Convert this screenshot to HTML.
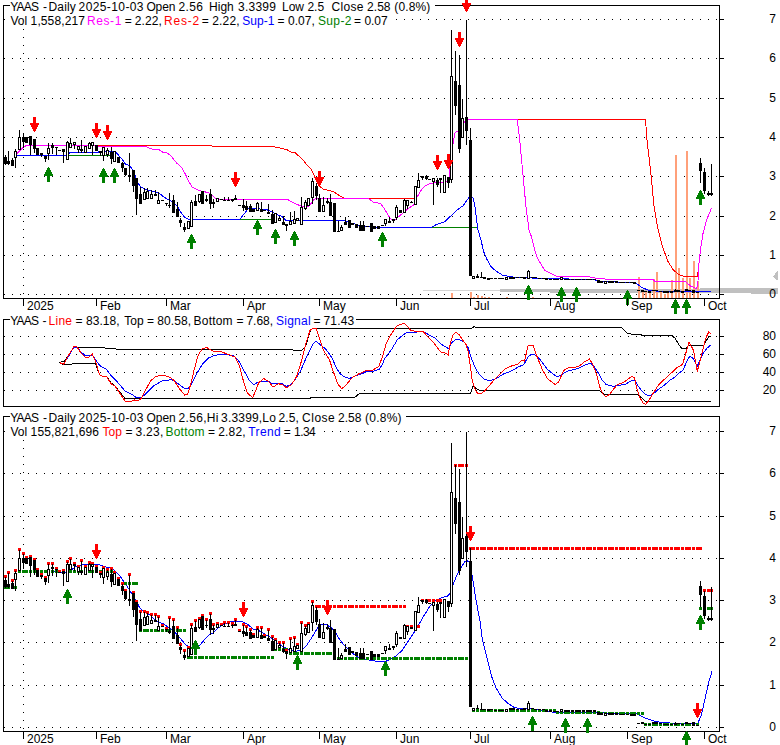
<!DOCTYPE html>
<html><head><meta charset="utf-8"><title>YAAS chart</title>
<style>html,body{margin:0;padding:0;background:#fff;}svg{display:block;}text{font-family:"Liberation Sans",sans-serif;}</style></head>
<body>
<svg width="780" height="745" viewBox="0 0 780 745" shape-rendering="crispEdges">
<rect x="0" y="0" width="780" height="745" fill="#fff"/>
<line x1="4" y1="19.5" x2="719" y2="19.5" stroke="#000" stroke-width="1" stroke-dasharray="1 7"/>
<line x1="4" y1="58.5" x2="719" y2="58.5" stroke="#000" stroke-width="1" stroke-dasharray="1 7"/>
<line x1="4" y1="98.5" x2="719" y2="98.5" stroke="#000" stroke-width="1" stroke-dasharray="1 7"/>
<line x1="4" y1="137.5" x2="719" y2="137.5" stroke="#000" stroke-width="1" stroke-dasharray="1 7"/>
<line x1="4" y1="176.5" x2="719" y2="176.5" stroke="#000" stroke-width="1" stroke-dasharray="1 7"/>
<line x1="4" y1="216.5" x2="719" y2="216.5" stroke="#000" stroke-width="1" stroke-dasharray="1 7"/>
<line x1="4" y1="255.5" x2="719" y2="255.5" stroke="#000" stroke-width="1" stroke-dasharray="1 7"/>
<line x1="4" y1="294.5" x2="719" y2="294.5" stroke="#000" stroke-width="1" stroke-dasharray="1 7"/>
<line x1="23.5" y1="5" x2="23.5" y2="298" stroke="#000" stroke-width="1" stroke-dasharray="1 7"/>
<rect x="423" y="290" width="77" height="1" fill="#d4d4d4"/>
<rect x="500" y="289" width="50" height="3" fill="#c0c0c0"/>
<rect x="550" y="289" width="150" height="4" fill="#c0c0c0"/>
<rect x="700" y="288" width="51" height="5" fill="#c0c0c0"/>
<rect x="751" y="288" width="27" height="6" fill="#c0c0c0"/>
<polygon points="778,271 777,271 773,277 777,280 778,280" fill="#c0c0c0"/>
<g id="vol">
<rect x="451" y="293" width="2" height="5" fill="#ffa07a"/>
<rect x="470" y="292" width="2" height="6" fill="#ffa07a"/>
<rect x="473" y="297" width="2" height="1" fill="#ffa07a"/>
<rect x="477" y="295" width="2" height="3" fill="#ffa07a"/>
<rect x="481" y="296" width="2" height="2" fill="#ffa07a"/>
<rect x="484" y="297" width="2" height="1" fill="#ffa07a"/>
<rect x="488" y="297" width="2" height="1" fill="#ffa07a"/>
<rect x="506" y="297" width="2" height="1" fill="#ffa07a"/>
<rect x="532" y="297" width="2" height="1" fill="#ffa07a"/>
<rect x="638" y="277" width="2" height="21" fill="#ffa07a"/>
<rect x="642" y="291" width="2" height="7" fill="#ffa07a"/>
<rect x="645" y="292" width="2" height="6" fill="#ffa07a"/>
<rect x="649" y="293" width="2" height="5" fill="#ffa07a"/>
<rect x="653" y="279" width="2" height="19" fill="#ffa07a"/>
<rect x="656" y="272" width="2" height="26" fill="#ffa07a"/>
<rect x="660" y="292" width="2" height="6" fill="#ffa07a"/>
<rect x="664" y="294" width="2" height="4" fill="#ffa07a"/>
<rect x="667" y="293" width="2" height="5" fill="#ffa07a"/>
<rect x="671" y="280" width="2" height="18" fill="#ffa07a"/>
<rect x="675" y="155" width="2" height="143" fill="#ffa07a"/>
<rect x="678" y="268" width="2" height="30" fill="#ffa07a"/>
<rect x="682" y="278" width="2" height="20" fill="#ffa07a"/>
<rect x="686" y="151" width="2" height="147" fill="#ffa07a"/>
<rect x="689" y="278" width="2" height="20" fill="#ffa07a"/>
<rect x="693" y="261" width="2" height="37" fill="#ffa07a"/>
<rect x="697" y="281" width="2" height="17" fill="#ffa07a"/>
</g>
<rect x="3" y="5" width="717" height="1" fill="#000"/>
<rect x="3" y="298" width="717" height="1" fill="#000"/>
<rect x="3" y="5" width="1" height="294" fill="#000"/>
<rect x="719" y="5" width="1" height="294" fill="#000"/>
<rect x="720" y="19" width="4" height="1" fill="#000"/>
<rect x="720" y="58" width="4" height="1" fill="#000"/>
<rect x="720" y="98" width="4" height="1" fill="#000"/>
<rect x="720" y="137" width="4" height="1" fill="#000"/>
<rect x="720" y="176" width="4" height="1" fill="#000"/>
<rect x="720" y="216" width="4" height="1" fill="#000"/>
<rect x="720" y="255" width="4" height="1" fill="#000"/>
<rect x="720" y="294" width="4" height="1" fill="#000"/>
<polyline points="69.0,155.5 112.0,155.5" fill="none" stroke="#008000" stroke-width="1" />
<polyline points="240.0,219.5 273.0,219.5" fill="none" stroke="#008000" stroke-width="1" />
<polyline points="431.0,227.5 477.5,227.5" fill="none" stroke="#008000" stroke-width="1" />
<polyline points="95.0,145.5 211.0,145.5 213.0,146.4 273.0,146.7 280.0,148.0 287.5,150.0 290.9,152.0 294.9,152.4 303.0,160.0 307.7,165.8 311.7,170.0 315.0,177.5 319.0,185.6 323.0,189.0 333.0,191.6 335.4,193.0 340.7,196.3 344.8,198.4 414.0,198.4" fill="none" stroke="#ff0000" stroke-width="1" />
<polyline points="517.3,119.5 645.5,119.5 647.0,140.0 650.5,169.7 654.0,206.0 657.4,226.8 662.0,245.0 667.7,261.0 673.4,270.0 679.0,274.7 684.8,276.5 697.4,276.5 698.5,268.0 699.6,256.4" fill="none" stroke="#ff0000" stroke-width="1" />
<polyline points="17.0,155.6 68.0,155.6 69.5,152.6 98.0,152.5 99.0,151.4 109.0,151.4 116.4,152.6 120.0,157.0 122.7,160.0 125.4,164.0 129.4,165.5 133.4,170.6 137.4,181.6 140.0,186.3 144.0,188.6 148.9,190.3 155.6,192.0 159.0,193.0 163.0,196.4 167.7,199.5 173.7,202.4 177.7,207.0 180.4,211.8 184.4,217.0 188.5,219.5 239.7,219.5 248.4,208.5 260.0,209.0 266.0,209.3 272.8,212.4 278.0,215.0 282.0,216.4 286.0,220.4 344.0,220.4 352.8,223.5 360.9,225.8 370.3,227.0 379.7,227.5 431.0,227.5 436.2,224.6 444.3,222.0 451.0,215.8 457.7,209.5 463.0,205.8 469.0,197.4 473.0,197.7 475.0,207.0 477.0,223.0 478.0,230.0 481.0,240.0 483.7,251.8 487.0,259.5 490.8,266.5 496.0,271.0 502.3,275.0 508.7,276.4 516.4,277.4 550.0,278.7 592.0,279.4 601.0,281.3 620.5,282.3 634.6,282.6 638.5,285.0 642.3,287.7 648.3,290.2 659.7,291.4 711.0,291.4" fill="none" stroke="#0000ff" stroke-width="1" />
<polyline points="17.0,153.7 20.0,150.5 23.0,147.5 26.3,145.5 95.0,145.5 96.0,146.4 145.5,146.4 151.5,149.0 159.0,149.7 163.0,152.3 166.3,152.3 171.0,156.0 176.4,162.8 181.7,167.5 185.8,175.0 188.5,181.0 191.8,186.7 195.8,189.0 200.0,190.7 203.4,191.5 208.0,192.6 212.0,195.0 214.8,197.6 216.8,199.4 287.5,199.4 293.6,203.0 300.3,205.7 306.3,207.7 310.3,204.4 313.7,199.4 317.7,198.4 368.3,198.4 373.0,202.0 380.3,203.4 383.7,207.7 389.0,216.4 391.0,219.0 395.8,219.5 398.5,216.8 403.0,213.0 407.0,209.5 410.0,207.4 413.4,205.0 417.4,196.4 421.5,189.7 425.5,185.6 429.5,183.6 433.5,183.0 444.3,182.7 448.3,180.3 449.7,173.6 450.3,160.0 453.0,144.0 455.0,133.0 457.0,131.4 460.0,131.4 463.0,125.0 466.0,119.5 517.3,119.5 520.0,143.0 523.0,175.0 525.8,205.0 529.0,230.0 531.8,237.7 534.4,249.0 537.0,257.0 540.8,264.0 545.0,270.4 551.0,273.6 556.4,276.3 588.5,276.3 591.0,277.7 603.8,278.7 606.0,279.4 652.8,279.4 655.0,281.5 686.0,282.0 690.5,286.0 696.0,288.4 697.8,286.0 698.5,268.0 700.8,247.3 703.0,233.6 706.5,220.0 711.7,207.8" fill="none" stroke="#ff00ff" stroke-width="1" />
<g id="candT">
<rect x="5" y="155" width="1" height="10" fill="#000"/>
<rect x="4" y="157" width="3" height="7" fill="#000"/>
<rect x="8" y="151" width="1" height="14" fill="#000"/>
<rect x="7" y="161" width="3" height="3" fill="#000"/>
<rect x="12" y="158" width="1" height="8" fill="#000"/>
<rect x="11" y="160" width="3" height="6" fill="#000"/>
<rect x="15" y="149" width="1" height="19" fill="#000"/>
<rect x="14" y="151" width="3" height="7" fill="#000"/>
<rect x="15" y="152" width="1" height="5" fill="#fff"/>
<rect x="19" y="130" width="1" height="20" fill="#000"/>
<rect x="18" y="137" width="3" height="13" fill="#000"/>
<rect x="19" y="138" width="1" height="11" fill="#fff"/>
<rect x="23" y="133" width="1" height="15" fill="#000"/>
<rect x="22" y="137" width="3" height="5" fill="#000"/>
<rect x="26" y="137" width="1" height="6" fill="#000"/>
<rect x="25" y="137" width="3" height="6" fill="#000"/>
<rect x="30" y="136" width="1" height="19" fill="#000"/>
<rect x="29" y="136" width="3" height="9" fill="#000"/>
<rect x="34" y="139" width="1" height="14" fill="#000"/>
<rect x="33" y="139" width="3" height="10" fill="#000"/>
<rect x="37" y="148" width="1" height="7" fill="#000"/>
<rect x="36" y="148" width="3" height="7" fill="#000"/>
<rect x="41" y="153" width="1" height="4" fill="#000"/>
<rect x="40" y="153" width="3" height="2" fill="#000"/>
<rect x="45" y="156" width="1" height="6" fill="#000"/>
<rect x="44" y="156" width="3" height="3" fill="#000"/>
<rect x="48" y="143" width="1" height="17" fill="#000"/>
<rect x="47" y="148" width="3" height="6" fill="#000"/>
<rect x="48" y="149" width="1" height="4" fill="#fff"/>
<rect x="52" y="143" width="1" height="11" fill="#000"/>
<rect x="51" y="145" width="3" height="3" fill="#000"/>
<rect x="56" y="147" width="1" height="8" fill="#000"/>
<rect x="55" y="147" width="3" height="1" fill="#000"/>
<rect x="59" y="150" width="1" height="1" fill="#000"/>
<rect x="58" y="150" width="3" height="1" fill="#000"/>
<rect x="63" y="149" width="1" height="14" fill="#000"/>
<rect x="62" y="149" width="3" height="3" fill="#000"/>
<rect x="67" y="141" width="1" height="19" fill="#000"/>
<rect x="66" y="142" width="3" height="18" fill="#000"/>
<rect x="67" y="143" width="1" height="16" fill="#fff"/>
<rect x="70" y="138" width="1" height="10" fill="#000"/>
<rect x="69" y="143" width="3" height="5" fill="#000"/>
<rect x="70" y="144" width="1" height="3" fill="#fff"/>
<rect x="74" y="142" width="1" height="7" fill="#000"/>
<rect x="73" y="142" width="3" height="3" fill="#000"/>
<rect x="74" y="143" width="1" height="1" fill="#fff"/>
<rect x="78" y="146" width="1" height="7" fill="#000"/>
<rect x="77" y="146" width="3" height="4" fill="#000"/>
<rect x="78" y="147" width="1" height="2" fill="#fff"/>
<rect x="81" y="140" width="1" height="13" fill="#000"/>
<rect x="80" y="149" width="3" height="2" fill="#000"/>
<rect x="85" y="146" width="1" height="7" fill="#000"/>
<rect x="84" y="146" width="3" height="7" fill="#000"/>
<rect x="85" y="147" width="1" height="5" fill="#fff"/>
<rect x="89" y="142" width="1" height="7" fill="#000"/>
<rect x="88" y="143" width="3" height="6" fill="#000"/>
<rect x="89" y="144" width="1" height="4" fill="#fff"/>
<rect x="92" y="142" width="1" height="13" fill="#000"/>
<rect x="91" y="142" width="3" height="4" fill="#000"/>
<rect x="92" y="143" width="1" height="2" fill="#fff"/>
<rect x="96" y="145" width="1" height="6" fill="#000"/>
<rect x="95" y="145" width="3" height="6" fill="#000"/>
<rect x="100" y="151" width="1" height="5" fill="#000"/>
<rect x="99" y="151" width="3" height="2" fill="#000"/>
<rect x="103" y="147" width="1" height="14" fill="#000"/>
<rect x="102" y="147" width="3" height="9" fill="#000"/>
<rect x="103" y="148" width="1" height="7" fill="#fff"/>
<rect x="107" y="148" width="1" height="9" fill="#000"/>
<rect x="106" y="150" width="3" height="5" fill="#000"/>
<rect x="107" y="151" width="1" height="3" fill="#fff"/>
<rect x="111" y="147" width="1" height="17" fill="#000"/>
<rect x="110" y="152" width="3" height="7" fill="#000"/>
<rect x="114" y="151" width="1" height="11" fill="#000"/>
<rect x="113" y="151" width="3" height="11" fill="#000"/>
<rect x="114" y="152" width="1" height="9" fill="#fff"/>
<rect x="118" y="157" width="1" height="6" fill="#000"/>
<rect x="117" y="157" width="3" height="6" fill="#000"/>
<rect x="122" y="162" width="1" height="10" fill="#000"/>
<rect x="121" y="163" width="3" height="5" fill="#000"/>
<rect x="125" y="168" width="1" height="8" fill="#000"/>
<rect x="124" y="168" width="3" height="7" fill="#000"/>
<rect x="129" y="153" width="1" height="29" fill="#000"/>
<rect x="128" y="175" width="3" height="2" fill="#000"/>
<rect x="133" y="170" width="1" height="22" fill="#000"/>
<rect x="132" y="170" width="3" height="16" fill="#000"/>
<rect x="136" y="178" width="1" height="37" fill="#000"/>
<rect x="135" y="178" width="3" height="21" fill="#000"/>
<rect x="140" y="187" width="1" height="17" fill="#000"/>
<rect x="139" y="194" width="3" height="10" fill="#000"/>
<rect x="144" y="188" width="1" height="12" fill="#000"/>
<rect x="143" y="192" width="3" height="8" fill="#000"/>
<rect x="144" y="193" width="1" height="6" fill="#fff"/>
<rect x="147" y="188" width="1" height="11" fill="#000"/>
<rect x="146" y="191" width="3" height="8" fill="#000"/>
<rect x="147" y="192" width="1" height="6" fill="#fff"/>
<rect x="151" y="190" width="1" height="9" fill="#000"/>
<rect x="150" y="194" width="3" height="5" fill="#000"/>
<rect x="151" y="195" width="1" height="3" fill="#fff"/>
<rect x="155" y="190" width="1" height="6" fill="#000"/>
<rect x="154" y="194" width="3" height="2" fill="#000"/>
<rect x="158" y="192" width="1" height="12" fill="#000"/>
<rect x="157" y="200" width="3" height="4" fill="#000"/>
<rect x="158" y="201" width="1" height="2" fill="#fff"/>
<rect x="162" y="200" width="1" height="1" fill="#000"/>
<rect x="161" y="200" width="3" height="1" fill="#000"/>
<rect x="166" y="203" width="1" height="3" fill="#000"/>
<rect x="165" y="203" width="3" height="1" fill="#000"/>
<rect x="169" y="193" width="1" height="15" fill="#000"/>
<rect x="168" y="205" width="3" height="1" fill="#000"/>
<rect x="173" y="195" width="1" height="18" fill="#000"/>
<rect x="172" y="200" width="3" height="13" fill="#000"/>
<rect x="177" y="202" width="1" height="15" fill="#000"/>
<rect x="176" y="209" width="3" height="8" fill="#000"/>
<rect x="180" y="218" width="1" height="9" fill="#000"/>
<rect x="179" y="220" width="3" height="3" fill="#000"/>
<rect x="184" y="223" width="1" height="9" fill="#000"/>
<rect x="183" y="227" width="3" height="3" fill="#000"/>
<rect x="188" y="221" width="1" height="8" fill="#000"/>
<rect x="187" y="221" width="3" height="8" fill="#000"/>
<rect x="188" y="222" width="1" height="6" fill="#fff"/>
<rect x="191" y="200" width="1" height="27" fill="#000"/>
<rect x="190" y="202" width="3" height="25" fill="#000"/>
<rect x="191" y="203" width="1" height="23" fill="#fff"/>
<rect x="195" y="195" width="1" height="11" fill="#000"/>
<rect x="194" y="201" width="3" height="5" fill="#000"/>
<rect x="199" y="194" width="1" height="9" fill="#000"/>
<rect x="198" y="194" width="3" height="8" fill="#000"/>
<rect x="199" y="195" width="1" height="6" fill="#fff"/>
<rect x="202" y="191" width="1" height="13" fill="#000"/>
<rect x="201" y="191" width="3" height="13" fill="#000"/>
<rect x="206" y="195" width="1" height="7" fill="#000"/>
<rect x="205" y="199" width="3" height="2" fill="#000"/>
<rect x="210" y="189" width="1" height="20" fill="#000"/>
<rect x="209" y="194" width="3" height="10" fill="#000"/>
<rect x="213" y="199" width="1" height="9" fill="#000"/>
<rect x="212" y="202" width="3" height="2" fill="#000"/>
<rect x="217" y="198" width="1" height="4" fill="#000"/>
<rect x="216" y="198" width="3" height="4" fill="#000"/>
<rect x="217" y="199" width="1" height="2" fill="#fff"/>
<rect x="221" y="199" width="1" height="1" fill="#000"/>
<rect x="220" y="199" width="3" height="1" fill="#000"/>
<rect x="224" y="197" width="1" height="4" fill="#000"/>
<rect x="223" y="200" width="3" height="1" fill="#000"/>
<rect x="228" y="197" width="1" height="4" fill="#000"/>
<rect x="227" y="200" width="3" height="1" fill="#000"/>
<rect x="232" y="199" width="1" height="3" fill="#000"/>
<rect x="231" y="199" width="3" height="2" fill="#000"/>
<rect x="235" y="195" width="1" height="5" fill="#000"/>
<rect x="234" y="198" width="3" height="2" fill="#000"/>
<rect x="239" y="205" width="1" height="1" fill="#000"/>
<rect x="238" y="205" width="3" height="1" fill="#000"/>
<rect x="243" y="199" width="1" height="12" fill="#000"/>
<rect x="242" y="205" width="3" height="3" fill="#000"/>
<rect x="246" y="201" width="1" height="9" fill="#000"/>
<rect x="245" y="206" width="3" height="4" fill="#000"/>
<rect x="250" y="204" width="1" height="8" fill="#000"/>
<rect x="249" y="206" width="3" height="6" fill="#000"/>
<rect x="253" y="209" width="1" height="3" fill="#000"/>
<rect x="252" y="209" width="3" height="3" fill="#000"/>
<rect x="257" y="202" width="1" height="9" fill="#000"/>
<rect x="256" y="203" width="3" height="8" fill="#000"/>
<rect x="257" y="204" width="1" height="6" fill="#fff"/>
<rect x="261" y="202" width="1" height="10" fill="#000"/>
<rect x="260" y="209" width="3" height="3" fill="#000"/>
<rect x="264" y="210" width="1" height="1" fill="#000"/>
<rect x="263" y="210" width="3" height="1" fill="#000"/>
<rect x="268" y="204" width="1" height="10" fill="#000"/>
<rect x="267" y="212" width="3" height="2" fill="#000"/>
<rect x="272" y="210" width="1" height="14" fill="#000"/>
<rect x="271" y="214" width="3" height="10" fill="#000"/>
<rect x="275" y="213" width="1" height="10" fill="#000"/>
<rect x="274" y="213" width="3" height="10" fill="#000"/>
<rect x="275" y="214" width="1" height="8" fill="#fff"/>
<rect x="279" y="216" width="1" height="5" fill="#000"/>
<rect x="278" y="218" width="3" height="3" fill="#000"/>
<rect x="279" y="219" width="1" height="1" fill="#fff"/>
<rect x="283" y="216" width="1" height="9" fill="#000"/>
<rect x="282" y="222" width="3" height="3" fill="#000"/>
<rect x="286" y="224" width="1" height="7" fill="#000"/>
<rect x="285" y="224" width="3" height="2" fill="#000"/>
<rect x="290" y="212" width="1" height="13" fill="#000"/>
<rect x="289" y="221" width="3" height="4" fill="#000"/>
<rect x="290" y="222" width="1" height="2" fill="#fff"/>
<rect x="294" y="211" width="1" height="13" fill="#000"/>
<rect x="293" y="219" width="3" height="5" fill="#000"/>
<rect x="294" y="220" width="1" height="3" fill="#fff"/>
<rect x="297" y="218" width="1" height="3" fill="#000"/>
<rect x="296" y="218" width="3" height="3" fill="#000"/>
<rect x="297" y="219" width="1" height="1" fill="#fff"/>
<rect x="301" y="197" width="1" height="28" fill="#000"/>
<rect x="300" y="207" width="3" height="18" fill="#000"/>
<rect x="301" y="208" width="1" height="16" fill="#fff"/>
<rect x="305" y="200" width="1" height="10" fill="#000"/>
<rect x="304" y="202" width="3" height="7" fill="#000"/>
<rect x="305" y="203" width="1" height="5" fill="#fff"/>
<rect x="308" y="198" width="1" height="8" fill="#000"/>
<rect x="307" y="198" width="3" height="8" fill="#000"/>
<rect x="308" y="199" width="1" height="6" fill="#fff"/>
<rect x="312" y="178" width="1" height="26" fill="#000"/>
<rect x="311" y="181" width="3" height="17" fill="#000"/>
<rect x="312" y="182" width="1" height="15" fill="#fff"/>
<rect x="316" y="183" width="1" height="17" fill="#000"/>
<rect x="315" y="186" width="3" height="10" fill="#000"/>
<rect x="319" y="194" width="1" height="18" fill="#000"/>
<rect x="318" y="198" width="3" height="14" fill="#000"/>
<rect x="323" y="197" width="1" height="15" fill="#000"/>
<rect x="322" y="205" width="3" height="7" fill="#000"/>
<rect x="323" y="206" width="1" height="5" fill="#fff"/>
<rect x="327" y="198" width="1" height="6" fill="#000"/>
<rect x="326" y="201" width="3" height="2" fill="#000"/>
<rect x="330" y="194" width="1" height="22" fill="#000"/>
<rect x="329" y="202" width="3" height="14" fill="#000"/>
<rect x="334" y="203" width="1" height="29" fill="#000"/>
<rect x="333" y="203" width="3" height="29" fill="#000"/>
<rect x="338" y="221" width="1" height="11" fill="#000"/>
<rect x="337" y="231" width="3" height="1" fill="#000"/>
<rect x="341" y="225" width="1" height="6" fill="#000"/>
<rect x="340" y="227" width="3" height="4" fill="#000"/>
<rect x="341" y="228" width="1" height="2" fill="#fff"/>
<rect x="345" y="217" width="1" height="8" fill="#000"/>
<rect x="344" y="222" width="3" height="3" fill="#000"/>
<rect x="349" y="220" width="1" height="8" fill="#000"/>
<rect x="348" y="220" width="3" height="8" fill="#000"/>
<rect x="352" y="223" width="1" height="2" fill="#000"/>
<rect x="351" y="223" width="3" height="2" fill="#000"/>
<rect x="356" y="224" width="1" height="4" fill="#000"/>
<rect x="355" y="224" width="3" height="4" fill="#000"/>
<rect x="360" y="221" width="1" height="10" fill="#000"/>
<rect x="359" y="225" width="3" height="6" fill="#000"/>
<rect x="363" y="221" width="1" height="10" fill="#000"/>
<rect x="362" y="225" width="3" height="6" fill="#000"/>
<rect x="367" y="226" width="1" height="1" fill="#000"/>
<rect x="366" y="226" width="3" height="1" fill="#000"/>
<rect x="371" y="223" width="1" height="9" fill="#000"/>
<rect x="370" y="223" width="3" height="9" fill="#000"/>
<rect x="374" y="226" width="1" height="3" fill="#000"/>
<rect x="373" y="226" width="3" height="3" fill="#000"/>
<rect x="378" y="226" width="1" height="3" fill="#000"/>
<rect x="377" y="226" width="3" height="3" fill="#000"/>
<rect x="382" y="225" width="1" height="1" fill="#000"/>
<rect x="381" y="225" width="3" height="1" fill="#000"/>
<rect x="385" y="219" width="1" height="7" fill="#000"/>
<rect x="384" y="219" width="3" height="5" fill="#000"/>
<rect x="385" y="220" width="1" height="3" fill="#fff"/>
<rect x="389" y="217" width="1" height="6" fill="#000"/>
<rect x="388" y="221" width="3" height="2" fill="#000"/>
<rect x="393" y="219" width="1" height="4" fill="#000"/>
<rect x="392" y="219" width="3" height="2" fill="#000"/>
<rect x="396" y="205" width="1" height="15" fill="#000"/>
<rect x="395" y="207" width="3" height="11" fill="#000"/>
<rect x="396" y="208" width="1" height="9" fill="#fff"/>
<rect x="400" y="210" width="1" height="3" fill="#000"/>
<rect x="399" y="210" width="3" height="3" fill="#000"/>
<rect x="404" y="199" width="1" height="14" fill="#000"/>
<rect x="403" y="200" width="3" height="13" fill="#000"/>
<rect x="404" y="201" width="1" height="11" fill="#fff"/>
<rect x="407" y="200" width="1" height="9" fill="#000"/>
<rect x="406" y="200" width="3" height="6" fill="#000"/>
<rect x="407" y="201" width="1" height="4" fill="#fff"/>
<rect x="411" y="201" width="1" height="2" fill="#000"/>
<rect x="410" y="202" width="3" height="1" fill="#000"/>
<rect x="415" y="186" width="1" height="19" fill="#000"/>
<rect x="414" y="186" width="3" height="19" fill="#000"/>
<rect x="415" y="187" width="1" height="17" fill="#fff"/>
<rect x="418" y="173" width="1" height="15" fill="#000"/>
<rect x="417" y="180" width="3" height="8" fill="#000"/>
<rect x="418" y="181" width="1" height="6" fill="#fff"/>
<rect x="422" y="176" width="1" height="4" fill="#000"/>
<rect x="421" y="176" width="3" height="2" fill="#000"/>
<rect x="426" y="175" width="1" height="5" fill="#000"/>
<rect x="425" y="176" width="3" height="3" fill="#000"/>
<rect x="429" y="179" width="1" height="1" fill="#000"/>
<rect x="428" y="179" width="3" height="1" fill="#000"/>
<rect x="433" y="178" width="1" height="27" fill="#000"/>
<rect x="432" y="178" width="3" height="4" fill="#000"/>
<rect x="433" y="179" width="1" height="2" fill="#fff"/>
<rect x="437" y="178" width="1" height="9" fill="#000"/>
<rect x="436" y="180" width="3" height="5" fill="#000"/>
<rect x="440" y="178" width="1" height="15" fill="#000"/>
<rect x="439" y="178" width="3" height="2" fill="#000"/>
<rect x="444" y="175" width="1" height="18" fill="#000"/>
<rect x="443" y="175" width="3" height="18" fill="#000"/>
<rect x="444" y="176" width="1" height="16" fill="#fff"/>
<rect x="448" y="177" width="1" height="11" fill="#000"/>
<rect x="447" y="177" width="3" height="6" fill="#000"/>
<rect x="451" y="30" width="1" height="153" fill="#000"/>
<rect x="450" y="76" width="3" height="104" fill="#000"/>
<rect x="451" y="77" width="1" height="102" fill="#fff"/>
<rect x="455" y="51" width="1" height="64" fill="#000"/>
<rect x="454" y="81" width="3" height="25" fill="#000"/>
<rect x="459" y="55" width="1" height="98" fill="#000"/>
<rect x="458" y="85" width="3" height="64" fill="#000"/>
<rect x="462" y="99" width="1" height="39" fill="#000"/>
<rect x="461" y="118" width="3" height="20" fill="#000"/>
<rect x="462" y="119" width="1" height="18" fill="#fff"/>
<rect x="466" y="20" width="1" height="125" fill="#000"/>
<rect x="465" y="117" width="3" height="14" fill="#000"/>
<rect x="470" y="128" width="1" height="148" fill="#000"/>
<rect x="469" y="140" width="3" height="136" fill="#000"/>
<rect x="473" y="276" width="1" height="3" fill="#000"/>
<rect x="472" y="276" width="3" height="3" fill="#000"/>
<rect x="473" y="277" width="1" height="1" fill="#fff"/>
<rect x="477" y="274" width="1" height="4" fill="#000"/>
<rect x="476" y="276" width="3" height="2" fill="#000"/>
<rect x="481" y="272" width="1" height="6" fill="#000"/>
<rect x="480" y="277" width="3" height="1" fill="#000"/>
<rect x="484" y="277" width="1" height="2" fill="#000"/>
<rect x="483" y="277" width="3" height="2" fill="#000"/>
<rect x="488" y="278" width="1" height="2" fill="#000"/>
<rect x="487" y="278" width="3" height="2" fill="#000"/>
<rect x="491" y="278" width="1" height="1" fill="#000"/>
<rect x="490" y="278" width="3" height="1" fill="#000"/>
<rect x="495" y="278" width="1" height="1" fill="#000"/>
<rect x="494" y="278" width="3" height="1" fill="#000"/>
<rect x="499" y="278" width="1" height="1" fill="#000"/>
<rect x="498" y="278" width="3" height="1" fill="#000"/>
<rect x="502" y="278" width="1" height="1" fill="#000"/>
<rect x="501" y="278" width="3" height="1" fill="#000"/>
<rect x="506" y="277" width="1" height="3" fill="#000"/>
<rect x="505" y="277" width="3" height="3" fill="#000"/>
<rect x="506" y="278" width="1" height="1" fill="#fff"/>
<rect x="510" y="277" width="1" height="2" fill="#000"/>
<rect x="509" y="277" width="3" height="2" fill="#000"/>
<rect x="513" y="277" width="1" height="2" fill="#000"/>
<rect x="512" y="277" width="3" height="2" fill="#000"/>
<rect x="517" y="277" width="1" height="1" fill="#000"/>
<rect x="516" y="277" width="3" height="1" fill="#000"/>
<rect x="521" y="277" width="1" height="1" fill="#000"/>
<rect x="520" y="277" width="3" height="1" fill="#000"/>
<rect x="524" y="277" width="1" height="2" fill="#000"/>
<rect x="523" y="277" width="3" height="2" fill="#000"/>
<rect x="528" y="270" width="1" height="9" fill="#000"/>
<rect x="527" y="271" width="3" height="8" fill="#000"/>
<rect x="528" y="272" width="1" height="6" fill="#fff"/>
<rect x="532" y="277" width="1" height="1" fill="#000"/>
<rect x="531" y="277" width="3" height="1" fill="#000"/>
<rect x="535" y="277" width="1" height="1" fill="#000"/>
<rect x="534" y="277" width="3" height="1" fill="#000"/>
<rect x="539" y="278" width="1" height="1" fill="#000"/>
<rect x="538" y="278" width="3" height="1" fill="#000"/>
<rect x="543" y="278" width="1" height="1" fill="#000"/>
<rect x="542" y="278" width="3" height="1" fill="#000"/>
<rect x="546" y="278" width="1" height="2" fill="#000"/>
<rect x="545" y="278" width="3" height="2" fill="#000"/>
<rect x="550" y="279" width="1" height="1" fill="#000"/>
<rect x="549" y="279" width="3" height="1" fill="#000"/>
<rect x="554" y="279" width="1" height="1" fill="#000"/>
<rect x="553" y="279" width="3" height="1" fill="#000"/>
<rect x="557" y="279" width="1" height="1" fill="#000"/>
<rect x="556" y="279" width="3" height="1" fill="#000"/>
<rect x="561" y="277" width="1" height="3" fill="#000"/>
<rect x="560" y="277" width="3" height="3" fill="#000"/>
<rect x="561" y="278" width="1" height="1" fill="#fff"/>
<rect x="565" y="279" width="1" height="1" fill="#000"/>
<rect x="564" y="279" width="3" height="1" fill="#000"/>
<rect x="568" y="279" width="1" height="1" fill="#000"/>
<rect x="567" y="279" width="3" height="1" fill="#000"/>
<rect x="572" y="279" width="1" height="1" fill="#000"/>
<rect x="571" y="279" width="3" height="1" fill="#000"/>
<rect x="576" y="279" width="1" height="1" fill="#000"/>
<rect x="575" y="279" width="3" height="1" fill="#000"/>
<rect x="579" y="279" width="1" height="1" fill="#000"/>
<rect x="578" y="279" width="3" height="1" fill="#000"/>
<rect x="583" y="279" width="1" height="1" fill="#000"/>
<rect x="582" y="279" width="3" height="1" fill="#000"/>
<rect x="587" y="279" width="1" height="1" fill="#000"/>
<rect x="586" y="279" width="3" height="1" fill="#000"/>
<rect x="590" y="279" width="1" height="1" fill="#000"/>
<rect x="589" y="279" width="3" height="1" fill="#000"/>
<rect x="594" y="279" width="1" height="1" fill="#000"/>
<rect x="593" y="279" width="3" height="1" fill="#000"/>
<rect x="598" y="280" width="1" height="3" fill="#000"/>
<rect x="597" y="280" width="3" height="3" fill="#000"/>
<rect x="601" y="281" width="1" height="2" fill="#000"/>
<rect x="600" y="281" width="3" height="2" fill="#000"/>
<rect x="605" y="281" width="1" height="3" fill="#000"/>
<rect x="604" y="281" width="3" height="3" fill="#000"/>
<rect x="605" y="282" width="1" height="1" fill="#fff"/>
<rect x="609" y="281" width="1" height="2" fill="#000"/>
<rect x="608" y="281" width="3" height="2" fill="#000"/>
<rect x="612" y="281" width="1" height="2" fill="#000"/>
<rect x="611" y="281" width="3" height="2" fill="#000"/>
<rect x="616" y="281" width="1" height="2" fill="#000"/>
<rect x="615" y="281" width="3" height="2" fill="#000"/>
<rect x="620" y="282" width="1" height="1" fill="#000"/>
<rect x="619" y="282" width="3" height="1" fill="#000"/>
<rect x="623" y="282" width="1" height="1" fill="#000"/>
<rect x="622" y="282" width="3" height="1" fill="#000"/>
<rect x="627" y="282" width="1" height="1" fill="#000"/>
<rect x="626" y="282" width="3" height="1" fill="#000"/>
<rect x="631" y="282" width="1" height="1" fill="#000"/>
<rect x="630" y="282" width="3" height="1" fill="#000"/>
<rect x="634" y="282" width="1" height="2" fill="#000"/>
<rect x="633" y="282" width="3" height="2" fill="#000"/>
<rect x="638" y="290" width="1" height="1" fill="#000"/>
<rect x="637" y="290" width="3" height="1" fill="#000"/>
<rect x="642" y="290" width="1" height="2" fill="#000"/>
<rect x="641" y="290" width="3" height="2" fill="#000"/>
<rect x="645" y="291" width="1" height="1" fill="#000"/>
<rect x="644" y="291" width="3" height="1" fill="#000"/>
<rect x="649" y="291" width="1" height="2" fill="#000"/>
<rect x="648" y="291" width="3" height="2" fill="#000"/>
<rect x="653" y="290" width="1" height="1" fill="#000"/>
<rect x="652" y="290" width="3" height="1" fill="#000"/>
<rect x="656" y="290" width="1" height="1" fill="#000"/>
<rect x="655" y="290" width="3" height="1" fill="#000"/>
<rect x="660" y="291" width="1" height="1" fill="#000"/>
<rect x="659" y="291" width="3" height="1" fill="#000"/>
<rect x="664" y="291" width="1" height="2" fill="#000"/>
<rect x="663" y="291" width="3" height="2" fill="#000"/>
<rect x="667" y="291" width="1" height="2" fill="#000"/>
<rect x="666" y="291" width="3" height="2" fill="#000"/>
<rect x="671" y="291" width="1" height="2" fill="#000"/>
<rect x="670" y="291" width="3" height="2" fill="#000"/>
<rect x="675" y="289" width="1" height="3" fill="#000"/>
<rect x="674" y="290" width="3" height="2" fill="#000"/>
<rect x="678" y="290" width="1" height="2" fill="#000"/>
<rect x="677" y="290" width="3" height="2" fill="#000"/>
<rect x="682" y="291" width="1" height="2" fill="#000"/>
<rect x="681" y="291" width="3" height="2" fill="#000"/>
<rect x="686" y="289" width="1" height="2" fill="#000"/>
<rect x="685" y="289" width="3" height="2" fill="#000"/>
<rect x="689" y="290" width="1" height="1" fill="#000"/>
<rect x="688" y="290" width="3" height="1" fill="#000"/>
<rect x="693" y="290" width="1" height="3" fill="#000"/>
<rect x="692" y="290" width="3" height="3" fill="#000"/>
<rect x="697" y="292" width="1" height="1" fill="#000"/>
<rect x="696" y="292" width="3" height="1" fill="#000"/>
<rect x="700" y="158" width="1" height="25" fill="#000"/>
<rect x="699" y="163" width="3" height="8" fill="#000"/>
<rect x="704" y="168" width="1" height="26" fill="#000"/>
<rect x="703" y="172" width="3" height="19" fill="#000"/>
<rect x="708" y="191" width="1" height="5" fill="#000"/>
<rect x="707" y="193" width="3" height="2" fill="#000"/>
<rect x="711" y="164" width="1" height="32" fill="#000"/>
<rect x="710" y="193" width="3" height="2" fill="#000"/>
</g>
<rect x="30" y="123" width="9" height="1" fill="#ff0000"/>
<rect x="30" y="124" width="9" height="1" fill="#ff0000"/>
<rect x="31" y="125" width="7" height="1" fill="#ff0000"/>
<rect x="31" y="126" width="7" height="1" fill="#ff0000"/>
<rect x="32" y="127" width="5" height="1" fill="#ff0000"/>
<rect x="32" y="128" width="5" height="1" fill="#ff0000"/>
<rect x="33" y="129" width="3" height="1" fill="#ff0000"/>
<rect x="33" y="130" width="3" height="1" fill="#ff0000"/>
<rect x="34" y="131" width="1" height="1" fill="#ff0000"/>
<rect x="33" y="117" width="3" height="6" fill="#ff0000"/>
<rect x="92" y="129" width="9" height="1" fill="#ff0000"/>
<rect x="92" y="130" width="9" height="1" fill="#ff0000"/>
<rect x="93" y="131" width="7" height="1" fill="#ff0000"/>
<rect x="93" y="132" width="7" height="1" fill="#ff0000"/>
<rect x="94" y="133" width="5" height="1" fill="#ff0000"/>
<rect x="94" y="134" width="5" height="1" fill="#ff0000"/>
<rect x="95" y="135" width="3" height="1" fill="#ff0000"/>
<rect x="95" y="136" width="3" height="1" fill="#ff0000"/>
<rect x="96" y="137" width="1" height="1" fill="#ff0000"/>
<rect x="95" y="123" width="3" height="6" fill="#ff0000"/>
<rect x="103" y="131" width="9" height="1" fill="#ff0000"/>
<rect x="103" y="132" width="9" height="1" fill="#ff0000"/>
<rect x="104" y="133" width="7" height="1" fill="#ff0000"/>
<rect x="104" y="134" width="7" height="1" fill="#ff0000"/>
<rect x="105" y="135" width="5" height="1" fill="#ff0000"/>
<rect x="105" y="136" width="5" height="1" fill="#ff0000"/>
<rect x="106" y="137" width="3" height="1" fill="#ff0000"/>
<rect x="106" y="138" width="3" height="1" fill="#ff0000"/>
<rect x="107" y="139" width="1" height="1" fill="#ff0000"/>
<rect x="106" y="125" width="3" height="6" fill="#ff0000"/>
<rect x="231" y="178" width="9" height="1" fill="#ff0000"/>
<rect x="231" y="179" width="9" height="1" fill="#ff0000"/>
<rect x="232" y="180" width="7" height="1" fill="#ff0000"/>
<rect x="232" y="181" width="7" height="1" fill="#ff0000"/>
<rect x="233" y="182" width="5" height="1" fill="#ff0000"/>
<rect x="233" y="183" width="5" height="1" fill="#ff0000"/>
<rect x="234" y="184" width="3" height="1" fill="#ff0000"/>
<rect x="234" y="185" width="3" height="1" fill="#ff0000"/>
<rect x="235" y="186" width="1" height="1" fill="#ff0000"/>
<rect x="234" y="172" width="3" height="6" fill="#ff0000"/>
<rect x="315" y="177" width="9" height="1" fill="#ff0000"/>
<rect x="315" y="178" width="9" height="1" fill="#ff0000"/>
<rect x="316" y="179" width="7" height="1" fill="#ff0000"/>
<rect x="316" y="180" width="7" height="1" fill="#ff0000"/>
<rect x="317" y="181" width="5" height="1" fill="#ff0000"/>
<rect x="317" y="182" width="5" height="1" fill="#ff0000"/>
<rect x="318" y="183" width="3" height="1" fill="#ff0000"/>
<rect x="318" y="184" width="3" height="1" fill="#ff0000"/>
<rect x="319" y="185" width="1" height="1" fill="#ff0000"/>
<rect x="318" y="171" width="3" height="6" fill="#ff0000"/>
<rect x="433" y="161" width="9" height="1" fill="#ff0000"/>
<rect x="433" y="162" width="9" height="1" fill="#ff0000"/>
<rect x="434" y="163" width="7" height="1" fill="#ff0000"/>
<rect x="434" y="164" width="7" height="1" fill="#ff0000"/>
<rect x="435" y="165" width="5" height="1" fill="#ff0000"/>
<rect x="435" y="166" width="5" height="1" fill="#ff0000"/>
<rect x="436" y="167" width="3" height="1" fill="#ff0000"/>
<rect x="436" y="168" width="3" height="1" fill="#ff0000"/>
<rect x="437" y="169" width="1" height="1" fill="#ff0000"/>
<rect x="436" y="155" width="3" height="6" fill="#ff0000"/>
<rect x="444" y="160" width="9" height="1" fill="#ff0000"/>
<rect x="444" y="161" width="9" height="1" fill="#ff0000"/>
<rect x="445" y="162" width="7" height="1" fill="#ff0000"/>
<rect x="445" y="163" width="7" height="1" fill="#ff0000"/>
<rect x="446" y="164" width="5" height="1" fill="#ff0000"/>
<rect x="446" y="165" width="5" height="1" fill="#ff0000"/>
<rect x="447" y="166" width="3" height="1" fill="#ff0000"/>
<rect x="447" y="167" width="3" height="1" fill="#ff0000"/>
<rect x="448" y="168" width="1" height="1" fill="#ff0000"/>
<rect x="447" y="154" width="3" height="6" fill="#ff0000"/>
<rect x="455" y="38" width="9" height="1" fill="#ff0000"/>
<rect x="455" y="39" width="9" height="1" fill="#ff0000"/>
<rect x="456" y="40" width="7" height="1" fill="#ff0000"/>
<rect x="456" y="41" width="7" height="1" fill="#ff0000"/>
<rect x="457" y="42" width="5" height="1" fill="#ff0000"/>
<rect x="457" y="43" width="5" height="1" fill="#ff0000"/>
<rect x="458" y="44" width="3" height="1" fill="#ff0000"/>
<rect x="458" y="45" width="3" height="1" fill="#ff0000"/>
<rect x="459" y="46" width="1" height="1" fill="#ff0000"/>
<rect x="458" y="32" width="3" height="6" fill="#ff0000"/>
<rect x="462" y="3" width="9" height="1" fill="#ff0000"/>
<rect x="462" y="4" width="9" height="1" fill="#ff0000"/>
<rect x="463" y="5" width="7" height="1" fill="#ff0000"/>
<rect x="463" y="6" width="7" height="1" fill="#ff0000"/>
<rect x="464" y="7" width="5" height="1" fill="#ff0000"/>
<rect x="464" y="8" width="5" height="1" fill="#ff0000"/>
<rect x="465" y="9" width="3" height="1" fill="#ff0000"/>
<rect x="465" y="10" width="3" height="1" fill="#ff0000"/>
<rect x="466" y="11" width="1" height="1" fill="#ff0000"/>
<rect x="465" y="-3" width="3" height="6" fill="#ff0000"/>
<rect x="48" y="167" width="1" height="1" fill="#008000"/>
<rect x="47" y="168" width="3" height="1" fill="#008000"/>
<rect x="47" y="169" width="3" height="1" fill="#008000"/>
<rect x="46" y="170" width="5" height="1" fill="#008000"/>
<rect x="46" y="171" width="5" height="1" fill="#008000"/>
<rect x="45" y="172" width="7" height="1" fill="#008000"/>
<rect x="45" y="173" width="7" height="1" fill="#008000"/>
<rect x="44" y="174" width="9" height="1" fill="#008000"/>
<rect x="44" y="175" width="9" height="1" fill="#008000"/>
<rect x="47" y="176" width="3" height="6" fill="#008000"/>
<rect x="103" y="168" width="1" height="1" fill="#008000"/>
<rect x="102" y="169" width="3" height="1" fill="#008000"/>
<rect x="102" y="170" width="3" height="1" fill="#008000"/>
<rect x="101" y="171" width="5" height="1" fill="#008000"/>
<rect x="101" y="172" width="5" height="1" fill="#008000"/>
<rect x="100" y="173" width="7" height="1" fill="#008000"/>
<rect x="100" y="174" width="7" height="1" fill="#008000"/>
<rect x="99" y="175" width="9" height="1" fill="#008000"/>
<rect x="99" y="176" width="9" height="1" fill="#008000"/>
<rect x="102" y="177" width="3" height="6" fill="#008000"/>
<rect x="114" y="168" width="1" height="1" fill="#008000"/>
<rect x="113" y="169" width="3" height="1" fill="#008000"/>
<rect x="113" y="170" width="3" height="1" fill="#008000"/>
<rect x="112" y="171" width="5" height="1" fill="#008000"/>
<rect x="112" y="172" width="5" height="1" fill="#008000"/>
<rect x="111" y="173" width="7" height="1" fill="#008000"/>
<rect x="111" y="174" width="7" height="1" fill="#008000"/>
<rect x="110" y="175" width="9" height="1" fill="#008000"/>
<rect x="110" y="176" width="9" height="1" fill="#008000"/>
<rect x="113" y="177" width="3" height="6" fill="#008000"/>
<rect x="191" y="234" width="1" height="1" fill="#008000"/>
<rect x="190" y="235" width="3" height="1" fill="#008000"/>
<rect x="190" y="236" width="3" height="1" fill="#008000"/>
<rect x="189" y="237" width="5" height="1" fill="#008000"/>
<rect x="189" y="238" width="5" height="1" fill="#008000"/>
<rect x="188" y="239" width="7" height="1" fill="#008000"/>
<rect x="188" y="240" width="7" height="1" fill="#008000"/>
<rect x="187" y="241" width="9" height="1" fill="#008000"/>
<rect x="187" y="242" width="9" height="1" fill="#008000"/>
<rect x="190" y="243" width="3" height="6" fill="#008000"/>
<rect x="257" y="220" width="1" height="1" fill="#008000"/>
<rect x="256" y="221" width="3" height="1" fill="#008000"/>
<rect x="256" y="222" width="3" height="1" fill="#008000"/>
<rect x="255" y="223" width="5" height="1" fill="#008000"/>
<rect x="255" y="224" width="5" height="1" fill="#008000"/>
<rect x="254" y="225" width="7" height="1" fill="#008000"/>
<rect x="254" y="226" width="7" height="1" fill="#008000"/>
<rect x="253" y="227" width="9" height="1" fill="#008000"/>
<rect x="253" y="228" width="9" height="1" fill="#008000"/>
<rect x="256" y="229" width="3" height="6" fill="#008000"/>
<rect x="275" y="229" width="1" height="1" fill="#008000"/>
<rect x="274" y="230" width="3" height="1" fill="#008000"/>
<rect x="274" y="231" width="3" height="1" fill="#008000"/>
<rect x="273" y="232" width="5" height="1" fill="#008000"/>
<rect x="273" y="233" width="5" height="1" fill="#008000"/>
<rect x="272" y="234" width="7" height="1" fill="#008000"/>
<rect x="272" y="235" width="7" height="1" fill="#008000"/>
<rect x="271" y="236" width="9" height="1" fill="#008000"/>
<rect x="271" y="237" width="9" height="1" fill="#008000"/>
<rect x="274" y="238" width="3" height="6" fill="#008000"/>
<rect x="294" y="231" width="1" height="1" fill="#008000"/>
<rect x="293" y="232" width="3" height="1" fill="#008000"/>
<rect x="293" y="233" width="3" height="1" fill="#008000"/>
<rect x="292" y="234" width="5" height="1" fill="#008000"/>
<rect x="292" y="235" width="5" height="1" fill="#008000"/>
<rect x="291" y="236" width="7" height="1" fill="#008000"/>
<rect x="291" y="237" width="7" height="1" fill="#008000"/>
<rect x="290" y="238" width="9" height="1" fill="#008000"/>
<rect x="290" y="239" width="9" height="1" fill="#008000"/>
<rect x="293" y="240" width="3" height="6" fill="#008000"/>
<rect x="382" y="232" width="1" height="1" fill="#008000"/>
<rect x="381" y="233" width="3" height="1" fill="#008000"/>
<rect x="381" y="234" width="3" height="1" fill="#008000"/>
<rect x="380" y="235" width="5" height="1" fill="#008000"/>
<rect x="380" y="236" width="5" height="1" fill="#008000"/>
<rect x="379" y="237" width="7" height="1" fill="#008000"/>
<rect x="379" y="238" width="7" height="1" fill="#008000"/>
<rect x="378" y="239" width="9" height="1" fill="#008000"/>
<rect x="378" y="240" width="9" height="1" fill="#008000"/>
<rect x="381" y="241" width="3" height="6" fill="#008000"/>
<rect x="528" y="285" width="1" height="1" fill="#008000"/>
<rect x="527" y="286" width="3" height="1" fill="#008000"/>
<rect x="527" y="287" width="3" height="1" fill="#008000"/>
<rect x="526" y="288" width="5" height="1" fill="#008000"/>
<rect x="526" y="289" width="5" height="1" fill="#008000"/>
<rect x="525" y="290" width="7" height="1" fill="#008000"/>
<rect x="525" y="291" width="7" height="1" fill="#008000"/>
<rect x="524" y="292" width="9" height="1" fill="#008000"/>
<rect x="524" y="293" width="9" height="1" fill="#008000"/>
<rect x="527" y="294" width="3" height="6" fill="#008000"/>
<rect x="561" y="287" width="1" height="1" fill="#008000"/>
<rect x="560" y="288" width="3" height="1" fill="#008000"/>
<rect x="560" y="289" width="3" height="1" fill="#008000"/>
<rect x="559" y="290" width="5" height="1" fill="#008000"/>
<rect x="559" y="291" width="5" height="1" fill="#008000"/>
<rect x="558" y="292" width="7" height="1" fill="#008000"/>
<rect x="558" y="293" width="7" height="1" fill="#008000"/>
<rect x="557" y="294" width="9" height="1" fill="#008000"/>
<rect x="557" y="295" width="9" height="1" fill="#008000"/>
<rect x="560" y="296" width="3" height="6" fill="#008000"/>
<rect x="576" y="287" width="1" height="1" fill="#008000"/>
<rect x="575" y="288" width="3" height="1" fill="#008000"/>
<rect x="575" y="289" width="3" height="1" fill="#008000"/>
<rect x="574" y="290" width="5" height="1" fill="#008000"/>
<rect x="574" y="291" width="5" height="1" fill="#008000"/>
<rect x="573" y="292" width="7" height="1" fill="#008000"/>
<rect x="573" y="293" width="7" height="1" fill="#008000"/>
<rect x="572" y="294" width="9" height="1" fill="#008000"/>
<rect x="572" y="295" width="9" height="1" fill="#008000"/>
<rect x="575" y="296" width="3" height="6" fill="#008000"/>
<rect x="627" y="290" width="1" height="1" fill="#008000"/>
<rect x="626" y="291" width="3" height="1" fill="#008000"/>
<rect x="626" y="292" width="3" height="1" fill="#008000"/>
<rect x="625" y="293" width="5" height="1" fill="#008000"/>
<rect x="625" y="294" width="5" height="1" fill="#008000"/>
<rect x="624" y="295" width="7" height="1" fill="#008000"/>
<rect x="624" y="296" width="7" height="1" fill="#008000"/>
<rect x="623" y="297" width="9" height="1" fill="#008000"/>
<rect x="623" y="298" width="9" height="1" fill="#008000"/>
<rect x="626" y="299" width="3" height="6" fill="#008000"/>
<rect x="675" y="299" width="1" height="1" fill="#008000"/>
<rect x="674" y="300" width="3" height="1" fill="#008000"/>
<rect x="674" y="301" width="3" height="1" fill="#008000"/>
<rect x="673" y="302" width="5" height="1" fill="#008000"/>
<rect x="673" y="303" width="5" height="1" fill="#008000"/>
<rect x="672" y="304" width="7" height="1" fill="#008000"/>
<rect x="672" y="305" width="7" height="1" fill="#008000"/>
<rect x="671" y="306" width="9" height="1" fill="#008000"/>
<rect x="671" y="307" width="9" height="1" fill="#008000"/>
<rect x="674" y="308" width="3" height="6" fill="#008000"/>
<rect x="686" y="299" width="1" height="1" fill="#008000"/>
<rect x="685" y="300" width="3" height="1" fill="#008000"/>
<rect x="685" y="301" width="3" height="1" fill="#008000"/>
<rect x="684" y="302" width="5" height="1" fill="#008000"/>
<rect x="684" y="303" width="5" height="1" fill="#008000"/>
<rect x="683" y="304" width="7" height="1" fill="#008000"/>
<rect x="683" y="305" width="7" height="1" fill="#008000"/>
<rect x="682" y="306" width="9" height="1" fill="#008000"/>
<rect x="682" y="307" width="9" height="1" fill="#008000"/>
<rect x="685" y="308" width="3" height="6" fill="#008000"/>
<rect x="700" y="190" width="1" height="1" fill="#008000"/>
<rect x="699" y="191" width="3" height="1" fill="#008000"/>
<rect x="699" y="192" width="3" height="1" fill="#008000"/>
<rect x="698" y="193" width="5" height="1" fill="#008000"/>
<rect x="698" y="194" width="5" height="1" fill="#008000"/>
<rect x="697" y="195" width="7" height="1" fill="#008000"/>
<rect x="697" y="196" width="7" height="1" fill="#008000"/>
<rect x="696" y="197" width="9" height="1" fill="#008000"/>
<rect x="696" y="198" width="9" height="1" fill="#008000"/>
<rect x="699" y="199" width="3" height="6" fill="#008000"/>
<rect x="23" y="298" width="1" height="8" fill="#000"/>
<text x="27" y="310" font-family="Liberation Sans, sans-serif" font-size="12px" fill="#000" text-anchor="start" >2025</text>
<rect x="96" y="298" width="1" height="8" fill="#000"/>
<text x="100" y="310" font-family="Liberation Sans, sans-serif" font-size="12px" fill="#000" text-anchor="start" >Feb</text>
<rect x="166" y="298" width="1" height="8" fill="#000"/>
<text x="170" y="310" font-family="Liberation Sans, sans-serif" font-size="12px" fill="#000" text-anchor="start" >Mar</text>
<rect x="243" y="298" width="1" height="8" fill="#000"/>
<text x="247" y="310" font-family="Liberation Sans, sans-serif" font-size="12px" fill="#000" text-anchor="start" >Apr</text>
<rect x="319" y="298" width="1" height="8" fill="#000"/>
<text x="323" y="310" font-family="Liberation Sans, sans-serif" font-size="12px" fill="#000" text-anchor="start" >May</text>
<rect x="396" y="298" width="1" height="8" fill="#000"/>
<text x="400" y="310" font-family="Liberation Sans, sans-serif" font-size="12px" fill="#000" text-anchor="start" >Jun</text>
<rect x="470" y="298" width="1" height="8" fill="#000"/>
<text x="474" y="310" font-family="Liberation Sans, sans-serif" font-size="12px" fill="#000" text-anchor="start" >Jul</text>
<rect x="550" y="298" width="1" height="8" fill="#000"/>
<text x="554" y="310" font-family="Liberation Sans, sans-serif" font-size="12px" fill="#000" text-anchor="start" >Aug</text>
<rect x="627" y="298" width="1" height="8" fill="#000"/>
<text x="631" y="310" font-family="Liberation Sans, sans-serif" font-size="12px" fill="#000" text-anchor="start" >Sep</text>
<rect x="704" y="298" width="1" height="8" fill="#000"/>
<text x="708" y="310" font-family="Liberation Sans, sans-serif" font-size="12px" fill="#000" text-anchor="start" >Oct</text>
<text x="776" y="23" font-family="Liberation Sans, sans-serif" font-size="12px" fill="#000" text-anchor="end" >7</text>
<text x="776" y="62" font-family="Liberation Sans, sans-serif" font-size="12px" fill="#000" text-anchor="end" >6</text>
<text x="776" y="102" font-family="Liberation Sans, sans-serif" font-size="12px" fill="#000" text-anchor="end" >5</text>
<text x="776" y="141" font-family="Liberation Sans, sans-serif" font-size="12px" fill="#000" text-anchor="end" >4</text>
<text x="776" y="180" font-family="Liberation Sans, sans-serif" font-size="12px" fill="#000" text-anchor="end" >3</text>
<text x="776" y="220" font-family="Liberation Sans, sans-serif" font-size="12px" fill="#000" text-anchor="end" >2</text>
<text x="776" y="259" font-family="Liberation Sans, sans-serif" font-size="12px" fill="#000" text-anchor="end" >1</text>
<text x="776" y="298" font-family="Liberation Sans, sans-serif" font-size="12px" fill="#000" text-anchor="end" >0</text>
<line x1="4" y1="336.5" x2="719" y2="336.5" stroke="#000" stroke-width="1" stroke-dasharray="1 7"/>
<line x1="4" y1="354.5" x2="719" y2="354.5" stroke="#000" stroke-width="1" stroke-dasharray="1 7"/>
<line x1="4" y1="372.5" x2="719" y2="372.5" stroke="#000" stroke-width="1" stroke-dasharray="1 7"/>
<line x1="4" y1="390.5" x2="719" y2="390.5" stroke="#000" stroke-width="1" stroke-dasharray="1 7"/>
<rect x="3" y="319" width="717" height="1" fill="#000"/>
<rect x="3" y="406" width="717" height="1" fill="#000"/>
<rect x="3" y="319" width="1" height="88" fill="#000"/>
<rect x="719" y="319" width="1" height="88" fill="#000"/>
<rect x="720" y="336" width="4" height="1" fill="#000"/>
<rect x="720" y="354" width="4" height="1" fill="#000"/>
<rect x="720" y="372" width="4" height="1" fill="#000"/>
<rect x="720" y="390" width="4" height="1" fill="#000"/>
<polyline points="59.5,362.6 64.6,361.0 68.7,355.0 73.8,346.8 77.0,347.4 98.5,347.4 122.0,349.5 292.6,349.5 293.6,350.4 301.8,350.4 305.9,345.8 310.0,331.4 312.5,328.4 471.3,328.4 474.4,326.5 476.4,327.6 621.3,327.6 627.4,333.5 633.6,334.5 640.9,334.6 642.2,335.5 671.7,335.5 674.9,338.0 678.7,344.5 682.0,348.6 686.4,348.6 688.3,345.5 703.7,345.5 707.0,339.4 708.8,336.5 710.8,336.0" fill="none" stroke="#000" stroke-width="1" />
<polyline points="59.5,362.6 63.6,364.6 71.8,364.4 72.8,363.4 95.4,363.4 99.5,374.5 101.5,376.0 106.7,376.5 110.8,382.7 114.9,385.8 119.0,391.0 125.0,398.5 310.0,398.5 311.0,397.5 354.4,397.5 359.5,393.6 470.3,393.6 473.3,385.8 476.4,388.8 480.5,390.5 599.7,390.5 604.9,394.6 637.7,394.6 641.8,398.0 645.4,401.5 710.8,401.5" fill="none" stroke="#000" stroke-width="1" />
<polyline points="59.5,362.6 63.6,364.0 68.7,356.0 73.8,347.2 77.0,347.2 81.0,352.0 85.0,355.4 92.3,355.0 96.4,361.0 100.5,366.3 106.7,369.4 110.8,375.5 118.0,382.7 125.0,391.0 131.3,394.0 136.4,397.5 141.5,397.5 146.7,393.0 153.8,385.8 162.0,381.0 171.3,379.6 176.4,382.3 183.6,387.8 187.7,388.8 190.5,385.5 196.2,374.5 202.3,364.2 208.5,358.0 214.6,355.4 220.8,354.4 227.0,354.6 234.0,356.0 238.2,360.0 243.3,369.4 249.5,380.6 253.6,384.7 257.7,382.3 263.8,381.0 268.0,381.0 272.0,383.7 278.2,383.0 282.3,383.7 286.4,386.4 290.5,385.0 294.6,380.6 300.8,370.4 306.9,356.0 313.0,343.7 316.2,341.3 320.3,344.7 325.4,348.8 331.5,357.0 336.7,368.3 340.0,373.5 344.0,376.5 349.2,378.6 355.4,376.0 362.6,373.5 366.7,371.4 372.8,371.4 379.0,369.4 382.0,365.3 385.0,358.0 391.3,349.9 397.4,339.6 405.6,333.0 410.8,332.4 417.0,332.0 423.0,331.4 428.2,334.5 434.4,337.6 440.5,343.7 448.7,348.8 451.8,342.7 455.9,339.2 460.0,340.0 465.0,342.7 468.2,347.8 471.3,358.0 475.4,368.3 479.5,374.5 484.6,379.6 490.8,380.6 496.2,378.6 504.4,373.5 510.5,371.4 517.7,367.3 523.8,364.6 528.0,357.0 532.0,354.0 536.2,355.6 541.3,361.0 547.4,369.4 553.6,374.5 557.7,377.0 561.8,374.5 567.0,371.4 578.2,368.3 584.4,365.3 590.5,363.2 594.6,367.3 598.7,373.5 601.8,379.6 605.9,384.3 613.0,386.4 620.3,385.2 625.4,384.3 631.5,380.6 635.0,380.6 637.7,385.5 641.5,390.6 645.4,394.5 649.9,395.8 653.0,394.2 658.2,389.4 664.0,385.5 669.7,380.4 674.9,377.2 679.4,372.7 682.6,370.8 686.4,362.4 689.6,356.3 692.8,358.0 695.4,363.0 697.3,366.3 699.9,359.9 703.0,353.5 707.0,348.3 710.8,345.0" fill="none" stroke="#0000ff" stroke-width="1" />
<polyline points="59.5,362.6 63.6,364.2 68.7,355.0 73.8,346.8 77.0,346.8 81.0,353.0 85.0,357.0 89.2,357.0 92.3,354.0 95.4,361.0 99.5,374.5 102.6,376.5 106.7,376.5 110.8,383.7 114.9,385.8 119.0,392.0 125.0,401.0 130.3,401.6 134.4,400.0 138.5,400.7 141.5,398.0 145.6,389.9 150.8,380.6 155.9,376.5 162.0,375.0 168.2,376.5 173.3,379.6 179.5,388.8 184.6,395.0 187.7,394.0 190.8,384.0 194.0,370.4 198.2,355.0 202.3,348.8 206.4,347.4 210.5,349.9 213.6,351.5 220.8,351.5 227.0,354.0 235.0,357.0 239.2,365.3 243.3,380.6 247.4,393.0 252.6,397.7 255.6,390.9 258.7,382.7 263.8,378.6 269.0,381.7 273.0,387.2 278.2,383.7 282.3,384.7 286.4,387.8 291.5,384.7 296.7,376.5 301.8,360.0 305.9,343.7 310.0,330.4 313.0,328.0 316.2,328.3 319.2,337.6 323.3,349.9 329.5,360.0 333.6,372.4 337.7,383.7 341.8,388.8 346.2,384.7 352.3,377.6 358.5,374.0 366.7,370.4 372.8,370.0 379.0,366.3 383.0,355.0 386.2,343.7 390.3,335.5 396.4,326.3 403.6,323.2 406.7,325.3 410.8,330.4 415.9,331.4 423.0,331.4 428.2,337.2 434.4,343.7 440.5,351.9 444.6,352.5 448.3,355.0 449.7,345.8 452.8,335.5 455.9,332.4 459.0,334.5 463.0,340.6 466.2,344.7 468.2,351.9 470.3,366.3 472.3,380.6 475.4,389.9 477.4,393.0 481.5,393.6 485.6,389.9 491.8,382.7 496.2,377.6 504.4,369.4 510.5,366.3 517.7,364.2 521.8,360.0 524.5,361.0 528.0,345.8 533.0,345.4 537.2,357.0 542.3,369.4 547.4,378.6 551.5,381.7 555.2,384.7 558.7,381.7 563.8,370.4 569.0,367.3 578.2,366.9 584.4,361.8 589.5,359.0 592.6,364.2 596.7,374.5 599.7,386.8 602.8,394.0 605.9,397.0 610.0,394.0 613.0,389.9 617.2,384.7 623.3,382.7 628.5,378.6 632.0,376.5 634.5,377.8 636.4,386.8 639.6,397.0 642.8,402.8 645.4,404.4 648.6,400.9 652.4,394.5 658.2,385.5 664.0,379.7 669.7,374.6 676.2,368.2 682.6,364.4 685.0,356.0 689.0,342.2 693.5,350.3 697.3,371.4 701.2,356.0 704.4,343.2 707.0,335.5 708.8,332.0 710.8,334.0" fill="none" stroke="#ff0000" stroke-width="1" />
<text x="776" y="340" font-family="Liberation Sans, sans-serif" font-size="12px" fill="#000" text-anchor="end" >80</text>
<text x="776" y="358" font-family="Liberation Sans, sans-serif" font-size="12px" fill="#000" text-anchor="end" >60</text>
<text x="776" y="376" font-family="Liberation Sans, sans-serif" font-size="12px" fill="#000" text-anchor="end" >40</text>
<text x="776" y="394" font-family="Liberation Sans, sans-serif" font-size="12px" fill="#000" text-anchor="end" >20</text>
<line x1="4" y1="431.5" x2="719" y2="431.5" stroke="#000" stroke-width="1" stroke-dasharray="1 7"/>
<line x1="4" y1="473.5" x2="719" y2="473.5" stroke="#000" stroke-width="1" stroke-dasharray="1 7"/>
<line x1="4" y1="516.5" x2="719" y2="516.5" stroke="#000" stroke-width="1" stroke-dasharray="1 7"/>
<line x1="4" y1="558.5" x2="719" y2="558.5" stroke="#000" stroke-width="1" stroke-dasharray="1 7"/>
<line x1="4" y1="600.5" x2="719" y2="600.5" stroke="#000" stroke-width="1" stroke-dasharray="1 7"/>
<line x1="4" y1="642.5" x2="719" y2="642.5" stroke="#000" stroke-width="1" stroke-dasharray="1 7"/>
<line x1="4" y1="685.5" x2="719" y2="685.5" stroke="#000" stroke-width="1" stroke-dasharray="1 7"/>
<line x1="4" y1="727.5" x2="719" y2="727.5" stroke="#000" stroke-width="1" stroke-dasharray="1 7"/>
<line x1="23.5" y1="416" x2="23.5" y2="731" stroke="#000" stroke-width="1" stroke-dasharray="1 7"/>
<rect x="3" y="416" width="717" height="1" fill="#000"/>
<rect x="3" y="731" width="717" height="1" fill="#000"/>
<rect x="3" y="416" width="1" height="316" fill="#000"/>
<rect x="719" y="416" width="1" height="316" fill="#000"/>
<rect x="720" y="431" width="4" height="1" fill="#000"/>
<rect x="720" y="473" width="4" height="1" fill="#000"/>
<rect x="720" y="516" width="4" height="1" fill="#000"/>
<rect x="720" y="558" width="4" height="1" fill="#000"/>
<rect x="720" y="600" width="4" height="1" fill="#000"/>
<rect x="720" y="642" width="4" height="1" fill="#000"/>
<rect x="720" y="685" width="4" height="1" fill="#000"/>
<rect x="720" y="727" width="4" height="1" fill="#000"/>
<polyline points="54.0,571.6 60.0,572.5 66.0,572.7 72.5,569.0 75.0,567.0 80.5,565.2 86.0,564.5 90.0,563.6 98.7,564.4 105.7,567.0 112.7,568.8 119.7,575.8 126.6,585.4 131.0,592.4 135.4,599.3 139.7,608.0 144.0,611.6 150.2,615.0 156.3,621.0 163.3,623.8 168.5,627.3 173.8,630.8 179.0,637.0 184.2,643.0 187.0,645.8 189.6,646.4 199.2,645.8 208.2,635.5 213.3,633.0 218.5,627.8 223.6,624.6 230.0,622.0 236.4,621.2 241.5,621.4 248.0,624.6 253.0,629.0 259.5,631.0 267.2,635.5 273.6,639.4 276.4,642.6 282.8,646.4 289.2,649.6 295.6,651.5 303.3,649.0 307.2,644.5 311.0,638.7 314.9,632.3 319.4,625.3 323.2,624.0 326.4,624.6 331.5,627.8 335.4,632.3 339.2,638.7 343.0,643.8 347.0,648.3 352.0,652.8 357.2,656.7 362.3,658.6 370.5,660.3 381.0,662.0 386.2,661.2 394.9,656.8 401.9,650.7 408.8,640.2 415.8,629.8 422.8,617.6 429.8,606.2 435.0,601.0 442.0,597.5 447.2,596.3 449.8,594.0 452.4,586.2 455.9,577.4 460.3,568.7 464.7,561.7 467.3,560.9 469.9,562.6 472.5,577.4 476.0,600.0 480.0,621.0 482.4,640.0 487.0,658.0 491.4,675.9 495.9,687.6 502.2,698.3 508.5,703.7 513.8,707.3 521.0,708.7 531.8,709.0 544.4,710.4 555.0,712.7 590.0,712.5 636.7,714.0 643.8,717.5 652.8,720.8 661.8,722.6 679.8,723.5 697.7,723.5 701.3,715.4 704.9,699.2 708.5,683.0 712.0,671.4" fill="none" stroke="#0000ff" stroke-width="1" />
<g id="lv">
<rect x="4" y="586" width="3" height="3" fill="#008000"/>
<rect x="7" y="586" width="3" height="3" fill="#008000"/>
<rect x="11" y="586" width="3" height="3" fill="#008000"/>
<rect x="14" y="586" width="3" height="3" fill="#008000"/>
<rect x="18" y="570" width="3" height="3" fill="#008000"/>
<rect x="22" y="570" width="3" height="3" fill="#008000"/>
<rect x="25" y="570" width="3" height="3" fill="#008000"/>
<rect x="29" y="570" width="3" height="3" fill="#008000"/>
<rect x="33" y="570" width="3" height="3" fill="#008000"/>
<rect x="36" y="570" width="3" height="3" fill="#008000"/>
<rect x="40" y="570" width="3" height="3" fill="#008000"/>
<rect x="44" y="570" width="3" height="3" fill="#008000"/>
<rect x="47" y="570" width="3" height="3" fill="#008000"/>
<rect x="51" y="570" width="3" height="3" fill="#008000"/>
<rect x="55" y="570" width="3" height="3" fill="#008000"/>
<rect x="58" y="570" width="3" height="3" fill="#008000"/>
<rect x="62" y="570" width="3" height="3" fill="#008000"/>
<rect x="66" y="570" width="3" height="3" fill="#008000"/>
<rect x="69" y="570" width="3" height="3" fill="#008000"/>
<rect x="73" y="570" width="3" height="3" fill="#008000"/>
<rect x="77" y="570" width="3" height="3" fill="#008000"/>
<rect x="80" y="570" width="3" height="3" fill="#008000"/>
<rect x="84" y="570" width="3" height="3" fill="#008000"/>
<rect x="88" y="570" width="3" height="3" fill="#008000"/>
<rect x="91" y="570" width="3" height="3" fill="#008000"/>
<rect x="95" y="570" width="3" height="3" fill="#008000"/>
<rect x="99" y="570" width="3" height="3" fill="#008000"/>
<rect x="102" y="570" width="3" height="3" fill="#008000"/>
<rect x="106" y="570" width="3" height="3" fill="#008000"/>
<rect x="110" y="570" width="3" height="3" fill="#008000"/>
<rect x="113" y="582" width="3" height="3" fill="#008000"/>
<rect x="117" y="582" width="3" height="3" fill="#008000"/>
<rect x="121" y="582" width="3" height="3" fill="#008000"/>
<rect x="124" y="582" width="3" height="3" fill="#008000"/>
<rect x="128" y="582" width="3" height="3" fill="#008000"/>
<rect x="132" y="582" width="3" height="3" fill="#008000"/>
<rect x="135" y="582" width="3" height="3" fill="#008000"/>
<rect x="139" y="629" width="3" height="3" fill="#008000"/>
<rect x="143" y="629" width="3" height="3" fill="#008000"/>
<rect x="146" y="629" width="3" height="3" fill="#008000"/>
<rect x="150" y="629" width="3" height="3" fill="#008000"/>
<rect x="154" y="629" width="3" height="3" fill="#008000"/>
<rect x="157" y="629" width="3" height="3" fill="#008000"/>
<rect x="161" y="629" width="3" height="3" fill="#008000"/>
<rect x="165" y="629" width="3" height="3" fill="#008000"/>
<rect x="168" y="629" width="3" height="3" fill="#008000"/>
<rect x="172" y="629" width="3" height="3" fill="#008000"/>
<rect x="176" y="629" width="3" height="3" fill="#008000"/>
<rect x="179" y="629" width="3" height="3" fill="#008000"/>
<rect x="183" y="629" width="3" height="3" fill="#008000"/>
<rect x="187" y="656" width="3" height="3" fill="#008000"/>
<rect x="190" y="656" width="3" height="3" fill="#008000"/>
<rect x="194" y="656" width="3" height="3" fill="#008000"/>
<rect x="198" y="656" width="3" height="3" fill="#008000"/>
<rect x="201" y="656" width="3" height="3" fill="#008000"/>
<rect x="205" y="656" width="3" height="3" fill="#008000"/>
<rect x="209" y="656" width="3" height="3" fill="#008000"/>
<rect x="212" y="656" width="3" height="3" fill="#008000"/>
<rect x="216" y="656" width="3" height="3" fill="#008000"/>
<rect x="220" y="656" width="3" height="3" fill="#008000"/>
<rect x="223" y="656" width="3" height="3" fill="#008000"/>
<rect x="227" y="656" width="3" height="3" fill="#008000"/>
<rect x="231" y="656" width="3" height="3" fill="#008000"/>
<rect x="234" y="656" width="3" height="3" fill="#008000"/>
<rect x="238" y="656" width="3" height="3" fill="#008000"/>
<rect x="242" y="656" width="3" height="3" fill="#008000"/>
<rect x="245" y="656" width="3" height="3" fill="#008000"/>
<rect x="249" y="656" width="3" height="3" fill="#008000"/>
<rect x="252" y="656" width="3" height="3" fill="#008000"/>
<rect x="256" y="656" width="3" height="3" fill="#008000"/>
<rect x="260" y="656" width="3" height="3" fill="#008000"/>
<rect x="263" y="656" width="3" height="3" fill="#008000"/>
<rect x="267" y="656" width="3" height="3" fill="#008000"/>
<rect x="271" y="656" width="3" height="3" fill="#008000"/>
<rect x="274" y="648" width="3" height="3" fill="#008000"/>
<rect x="278" y="648" width="3" height="3" fill="#008000"/>
<rect x="282" y="648" width="3" height="3" fill="#008000"/>
<rect x="285" y="648" width="3" height="3" fill="#008000"/>
<rect x="289" y="652" width="3" height="3" fill="#008000"/>
<rect x="293" y="652" width="3" height="3" fill="#008000"/>
<rect x="296" y="652" width="3" height="3" fill="#008000"/>
<rect x="300" y="652" width="3" height="3" fill="#008000"/>
<rect x="304" y="652" width="3" height="3" fill="#008000"/>
<rect x="307" y="652" width="3" height="3" fill="#008000"/>
<rect x="311" y="652" width="3" height="3" fill="#008000"/>
<rect x="315" y="652" width="3" height="3" fill="#008000"/>
<rect x="318" y="652" width="3" height="3" fill="#008000"/>
<rect x="322" y="652" width="3" height="3" fill="#008000"/>
<rect x="326" y="652" width="3" height="3" fill="#008000"/>
<rect x="329" y="652" width="3" height="3" fill="#008000"/>
<rect x="337" y="657" width="3" height="3" fill="#008000"/>
<rect x="340" y="657" width="3" height="3" fill="#008000"/>
<rect x="344" y="657" width="3" height="3" fill="#008000"/>
<rect x="348" y="657" width="3" height="3" fill="#008000"/>
<rect x="351" y="657" width="3" height="3" fill="#008000"/>
<rect x="355" y="657" width="3" height="3" fill="#008000"/>
<rect x="359" y="657" width="3" height="3" fill="#008000"/>
<rect x="362" y="657" width="3" height="3" fill="#008000"/>
<rect x="366" y="657" width="3" height="3" fill="#008000"/>
<rect x="370" y="657" width="3" height="3" fill="#008000"/>
<rect x="373" y="657" width="3" height="3" fill="#008000"/>
<rect x="377" y="657" width="3" height="3" fill="#008000"/>
<rect x="381" y="657" width="3" height="3" fill="#008000"/>
<rect x="384" y="657" width="3" height="3" fill="#008000"/>
<rect x="388" y="657" width="3" height="3" fill="#008000"/>
<rect x="392" y="657" width="3" height="3" fill="#008000"/>
<rect x="395" y="657" width="3" height="3" fill="#008000"/>
<rect x="399" y="657" width="3" height="3" fill="#008000"/>
<rect x="403" y="657" width="3" height="3" fill="#008000"/>
<rect x="406" y="657" width="3" height="3" fill="#008000"/>
<rect x="410" y="657" width="3" height="3" fill="#008000"/>
<rect x="414" y="657" width="3" height="3" fill="#008000"/>
<rect x="417" y="657" width="3" height="3" fill="#008000"/>
<rect x="421" y="657" width="3" height="3" fill="#008000"/>
<rect x="425" y="657" width="3" height="3" fill="#008000"/>
<rect x="428" y="657" width="3" height="3" fill="#008000"/>
<rect x="432" y="657" width="3" height="3" fill="#008000"/>
<rect x="436" y="657" width="3" height="3" fill="#008000"/>
<rect x="439" y="657" width="3" height="3" fill="#008000"/>
<rect x="443" y="657" width="3" height="3" fill="#008000"/>
<rect x="447" y="657" width="3" height="3" fill="#008000"/>
<rect x="450" y="657" width="3" height="3" fill="#008000"/>
<rect x="454" y="657" width="3" height="3" fill="#008000"/>
<rect x="458" y="657" width="3" height="3" fill="#008000"/>
<rect x="461" y="657" width="3" height="3" fill="#008000"/>
<rect x="465" y="657" width="3" height="3" fill="#008000"/>
<rect x="472" y="709" width="3" height="3" fill="#008000"/>
<rect x="476" y="709" width="3" height="3" fill="#008000"/>
<rect x="480" y="709" width="3" height="3" fill="#008000"/>
<rect x="483" y="709" width="3" height="3" fill="#008000"/>
<rect x="487" y="709" width="3" height="3" fill="#008000"/>
<rect x="490" y="709" width="3" height="3" fill="#008000"/>
<rect x="494" y="709" width="3" height="3" fill="#008000"/>
<rect x="498" y="709" width="3" height="3" fill="#008000"/>
<rect x="501" y="709" width="3" height="3" fill="#008000"/>
<rect x="505" y="709" width="3" height="3" fill="#008000"/>
<rect x="509" y="709" width="3" height="3" fill="#008000"/>
<rect x="512" y="709" width="3" height="3" fill="#008000"/>
<rect x="516" y="709" width="3" height="3" fill="#008000"/>
<rect x="520" y="709" width="3" height="3" fill="#008000"/>
<rect x="523" y="709" width="3" height="3" fill="#008000"/>
<rect x="527" y="709" width="3" height="3" fill="#008000"/>
<rect x="531" y="709" width="3" height="3" fill="#008000"/>
<rect x="534" y="709" width="3" height="3" fill="#008000"/>
<rect x="538" y="709" width="3" height="3" fill="#008000"/>
<rect x="542" y="709" width="3" height="3" fill="#008000"/>
<rect x="545" y="709" width="3" height="3" fill="#008000"/>
<rect x="549" y="709" width="3" height="3" fill="#008000"/>
<rect x="553" y="709" width="3" height="3" fill="#008000"/>
<rect x="556" y="711" width="3" height="3" fill="#008000"/>
<rect x="560" y="711" width="3" height="3" fill="#008000"/>
<rect x="564" y="711" width="3" height="3" fill="#008000"/>
<rect x="567" y="711" width="3" height="3" fill="#008000"/>
<rect x="571" y="711" width="3" height="3" fill="#008000"/>
<rect x="575" y="711" width="3" height="3" fill="#008000"/>
<rect x="578" y="711" width="3" height="3" fill="#008000"/>
<rect x="582" y="711" width="3" height="3" fill="#008000"/>
<rect x="586" y="711" width="3" height="3" fill="#008000"/>
<rect x="589" y="711" width="3" height="3" fill="#008000"/>
<rect x="593" y="711" width="3" height="3" fill="#008000"/>
<rect x="597" y="711" width="3" height="3" fill="#008000"/>
<rect x="600" y="712" width="3" height="3" fill="#008000"/>
<rect x="604" y="712" width="3" height="3" fill="#008000"/>
<rect x="608" y="712" width="3" height="3" fill="#008000"/>
<rect x="611" y="712" width="3" height="3" fill="#008000"/>
<rect x="615" y="712" width="3" height="3" fill="#008000"/>
<rect x="619" y="712" width="3" height="3" fill="#008000"/>
<rect x="622" y="712" width="3" height="3" fill="#008000"/>
<rect x="626" y="712" width="3" height="3" fill="#008000"/>
<rect x="630" y="712" width="3" height="3" fill="#008000"/>
<rect x="633" y="712" width="3" height="3" fill="#008000"/>
<rect x="637" y="712" width="3" height="3" fill="#008000"/>
<rect x="641" y="712" width="3" height="3" fill="#008000"/>
<rect x="644" y="723" width="3" height="3" fill="#008000"/>
<rect x="648" y="723" width="3" height="3" fill="#008000"/>
<rect x="652" y="723" width="3" height="3" fill="#008000"/>
<rect x="655" y="723" width="3" height="3" fill="#008000"/>
<rect x="659" y="723" width="3" height="3" fill="#008000"/>
<rect x="663" y="723" width="3" height="3" fill="#008000"/>
<rect x="666" y="723" width="3" height="3" fill="#008000"/>
<rect x="670" y="723" width="3" height="3" fill="#008000"/>
<rect x="674" y="723" width="3" height="3" fill="#008000"/>
<rect x="677" y="723" width="3" height="3" fill="#008000"/>
<rect x="681" y="723" width="3" height="3" fill="#008000"/>
<rect x="685" y="723" width="3" height="3" fill="#008000"/>
<rect x="688" y="723" width="3" height="3" fill="#008000"/>
<rect x="692" y="723" width="3" height="3" fill="#008000"/>
<rect x="696" y="723" width="3" height="3" fill="#008000"/>
<rect x="699" y="607" width="3" height="3" fill="#008000"/>
<rect x="703" y="607" width="3" height="3" fill="#008000"/>
<rect x="707" y="607" width="3" height="3" fill="#008000"/>
<rect x="710" y="607" width="3" height="3" fill="#008000"/>
<rect x="4" y="575" width="3" height="3" fill="#ff0000"/>
<rect x="7" y="571" width="3" height="3" fill="#ff0000"/>
<rect x="11" y="579" width="3" height="3" fill="#ff0000"/>
<rect x="14" y="569" width="3" height="3" fill="#ff0000"/>
<rect x="18" y="548" width="3" height="3" fill="#ff0000"/>
<rect x="22" y="552" width="3" height="3" fill="#ff0000"/>
<rect x="25" y="556" width="3" height="3" fill="#ff0000"/>
<rect x="29" y="555" width="3" height="3" fill="#ff0000"/>
<rect x="33" y="558" width="3" height="3" fill="#ff0000"/>
<rect x="36" y="568" width="3" height="3" fill="#ff0000"/>
<rect x="40" y="573" width="3" height="3" fill="#ff0000"/>
<rect x="44" y="576" width="3" height="3" fill="#ff0000"/>
<rect x="47" y="562" width="3" height="3" fill="#ff0000"/>
<rect x="51" y="562" width="3" height="3" fill="#ff0000"/>
<rect x="55" y="567" width="3" height="3" fill="#ff0000"/>
<rect x="58" y="570" width="3" height="3" fill="#ff0000"/>
<rect x="62" y="569" width="3" height="3" fill="#ff0000"/>
<rect x="66" y="560" width="3" height="3" fill="#ff0000"/>
<rect x="69" y="557" width="3" height="3" fill="#ff0000"/>
<rect x="73" y="562" width="3" height="3" fill="#ff0000"/>
<rect x="77" y="565" width="3" height="3" fill="#ff0000"/>
<rect x="80" y="559" width="3" height="3" fill="#ff0000"/>
<rect x="84" y="565" width="3" height="3" fill="#ff0000"/>
<rect x="88" y="561" width="3" height="3" fill="#ff0000"/>
<rect x="91" y="562" width="3" height="3" fill="#ff0000"/>
<rect x="95" y="565" width="3" height="3" fill="#ff0000"/>
<rect x="99" y="571" width="3" height="3" fill="#ff0000"/>
<rect x="102" y="566" width="3" height="3" fill="#ff0000"/>
<rect x="106" y="568" width="3" height="3" fill="#ff0000"/>
<rect x="110" y="567" width="3" height="3" fill="#ff0000"/>
<rect x="113" y="571" width="3" height="3" fill="#ff0000"/>
<rect x="117" y="577" width="3" height="3" fill="#ff0000"/>
<rect x="121" y="582" width="3" height="3" fill="#ff0000"/>
<rect x="124" y="589" width="3" height="3" fill="#ff0000"/>
<rect x="128" y="573" width="3" height="3" fill="#ff0000"/>
<rect x="132" y="591" width="3" height="3" fill="#ff0000"/>
<rect x="135" y="600" width="3" height="3" fill="#ff0000"/>
<rect x="139" y="610" width="3" height="3" fill="#ff0000"/>
<rect x="143" y="610" width="3" height="3" fill="#ff0000"/>
<rect x="146" y="611" width="3" height="3" fill="#ff0000"/>
<rect x="150" y="613" width="3" height="3" fill="#ff0000"/>
<rect x="154" y="613" width="3" height="3" fill="#ff0000"/>
<rect x="157" y="615" width="3" height="3" fill="#ff0000"/>
<rect x="161" y="624" width="3" height="3" fill="#ff0000"/>
<rect x="165" y="627" width="3" height="3" fill="#ff0000"/>
<rect x="168" y="616" width="3" height="3" fill="#ff0000"/>
<rect x="172" y="618" width="3" height="3" fill="#ff0000"/>
<rect x="176" y="626" width="3" height="3" fill="#ff0000"/>
<rect x="179" y="643" width="3" height="3" fill="#ff0000"/>
<rect x="183" y="649" width="3" height="3" fill="#ff0000"/>
<rect x="187" y="646" width="3" height="3" fill="#ff0000"/>
<rect x="190" y="623" width="3" height="3" fill="#ff0000"/>
<rect x="194" y="619" width="3" height="3" fill="#ff0000"/>
<rect x="198" y="617" width="3" height="3" fill="#ff0000"/>
<rect x="201" y="614" width="3" height="3" fill="#ff0000"/>
<rect x="205" y="618" width="3" height="3" fill="#ff0000"/>
<rect x="209" y="612" width="3" height="3" fill="#ff0000"/>
<rect x="212" y="623" width="3" height="3" fill="#ff0000"/>
<rect x="216" y="622" width="3" height="3" fill="#ff0000"/>
<rect x="220" y="623" width="3" height="3" fill="#ff0000"/>
<rect x="223" y="621" width="3" height="3" fill="#ff0000"/>
<rect x="227" y="621" width="3" height="3" fill="#ff0000"/>
<rect x="231" y="622" width="3" height="3" fill="#ff0000"/>
<rect x="234" y="618" width="3" height="3" fill="#ff0000"/>
<rect x="238" y="629" width="3" height="3" fill="#ff0000"/>
<rect x="242" y="623" width="3" height="3" fill="#ff0000"/>
<rect x="245" y="625" width="3" height="3" fill="#ff0000"/>
<rect x="249" y="628" width="3" height="3" fill="#ff0000"/>
<rect x="252" y="633" width="3" height="3" fill="#ff0000"/>
<rect x="256" y="626" width="3" height="3" fill="#ff0000"/>
<rect x="260" y="626" width="3" height="3" fill="#ff0000"/>
<rect x="263" y="634" width="3" height="3" fill="#ff0000"/>
<rect x="267" y="628" width="3" height="3" fill="#ff0000"/>
<rect x="271" y="635" width="3" height="3" fill="#ff0000"/>
<rect x="274" y="638" width="3" height="3" fill="#ff0000"/>
<rect x="278" y="641" width="3" height="3" fill="#ff0000"/>
<rect x="282" y="641" width="3" height="3" fill="#ff0000"/>
<rect x="285" y="649" width="3" height="3" fill="#ff0000"/>
<rect x="289" y="637" width="3" height="3" fill="#ff0000"/>
<rect x="293" y="636" width="3" height="3" fill="#ff0000"/>
<rect x="296" y="643" width="3" height="3" fill="#ff0000"/>
<rect x="300" y="621" width="3" height="3" fill="#ff0000"/>
<rect x="304" y="624" width="3" height="3" fill="#ff0000"/>
<rect x="307" y="622" width="3" height="3" fill="#ff0000"/>
<rect x="311" y="600" width="3" height="3" fill="#ff0000"/>
<rect x="315" y="605" width="3" height="3" fill="#ff0000"/>
<rect x="318" y="605" width="3" height="3" fill="#ff0000"/>
<rect x="322" y="605" width="3" height="3" fill="#ff0000"/>
<rect x="326" y="605" width="3" height="3" fill="#ff0000"/>
<rect x="329" y="605" width="3" height="3" fill="#ff0000"/>
<rect x="333" y="605" width="3" height="3" fill="#ff0000"/>
<rect x="337" y="605" width="3" height="3" fill="#ff0000"/>
<rect x="340" y="605" width="3" height="3" fill="#ff0000"/>
<rect x="344" y="605" width="3" height="3" fill="#ff0000"/>
<rect x="348" y="605" width="3" height="3" fill="#ff0000"/>
<rect x="351" y="605" width="3" height="3" fill="#ff0000"/>
<rect x="355" y="605" width="3" height="3" fill="#ff0000"/>
<rect x="359" y="605" width="3" height="3" fill="#ff0000"/>
<rect x="362" y="605" width="3" height="3" fill="#ff0000"/>
<rect x="366" y="605" width="3" height="3" fill="#ff0000"/>
<rect x="370" y="605" width="3" height="3" fill="#ff0000"/>
<rect x="373" y="605" width="3" height="3" fill="#ff0000"/>
<rect x="377" y="605" width="3" height="3" fill="#ff0000"/>
<rect x="381" y="605" width="3" height="3" fill="#ff0000"/>
<rect x="384" y="605" width="3" height="3" fill="#ff0000"/>
<rect x="388" y="605" width="3" height="3" fill="#ff0000"/>
<rect x="392" y="605" width="3" height="3" fill="#ff0000"/>
<rect x="395" y="605" width="3" height="3" fill="#ff0000"/>
<rect x="399" y="605" width="3" height="3" fill="#ff0000"/>
<rect x="403" y="605" width="3" height="3" fill="#ff0000"/>
<rect x="406" y="625" width="3" height="3" fill="#ff0000"/>
<rect x="410" y="625" width="3" height="3" fill="#ff0000"/>
<rect x="414" y="625" width="3" height="3" fill="#ff0000"/>
<rect x="417" y="625" width="3" height="3" fill="#ff0000"/>
<rect x="421" y="599" width="3" height="3" fill="#ff0000"/>
<rect x="425" y="599" width="3" height="3" fill="#ff0000"/>
<rect x="428" y="599" width="3" height="3" fill="#ff0000"/>
<rect x="432" y="599" width="3" height="3" fill="#ff0000"/>
<rect x="436" y="599" width="3" height="3" fill="#ff0000"/>
<rect x="439" y="599" width="3" height="3" fill="#ff0000"/>
<rect x="454" y="464" width="3" height="3" fill="#ff0000"/>
<rect x="458" y="464" width="3" height="3" fill="#ff0000"/>
<rect x="461" y="464" width="3" height="3" fill="#ff0000"/>
<rect x="465" y="464" width="3" height="3" fill="#ff0000"/>
<rect x="469" y="547" width="3" height="3" fill="#ff0000"/>
<rect x="472" y="547" width="3" height="3" fill="#ff0000"/>
<rect x="476" y="547" width="3" height="3" fill="#ff0000"/>
<rect x="480" y="547" width="3" height="3" fill="#ff0000"/>
<rect x="483" y="547" width="3" height="3" fill="#ff0000"/>
<rect x="487" y="547" width="3" height="3" fill="#ff0000"/>
<rect x="490" y="547" width="3" height="3" fill="#ff0000"/>
<rect x="494" y="547" width="3" height="3" fill="#ff0000"/>
<rect x="498" y="547" width="3" height="3" fill="#ff0000"/>
<rect x="501" y="547" width="3" height="3" fill="#ff0000"/>
<rect x="505" y="547" width="3" height="3" fill="#ff0000"/>
<rect x="509" y="547" width="3" height="3" fill="#ff0000"/>
<rect x="512" y="547" width="3" height="3" fill="#ff0000"/>
<rect x="516" y="547" width="3" height="3" fill="#ff0000"/>
<rect x="520" y="547" width="3" height="3" fill="#ff0000"/>
<rect x="523" y="547" width="3" height="3" fill="#ff0000"/>
<rect x="527" y="547" width="3" height="3" fill="#ff0000"/>
<rect x="531" y="547" width="3" height="3" fill="#ff0000"/>
<rect x="534" y="547" width="3" height="3" fill="#ff0000"/>
<rect x="538" y="547" width="3" height="3" fill="#ff0000"/>
<rect x="542" y="547" width="3" height="3" fill="#ff0000"/>
<rect x="545" y="547" width="3" height="3" fill="#ff0000"/>
<rect x="549" y="547" width="3" height="3" fill="#ff0000"/>
<rect x="553" y="547" width="3" height="3" fill="#ff0000"/>
<rect x="556" y="547" width="3" height="3" fill="#ff0000"/>
<rect x="560" y="547" width="3" height="3" fill="#ff0000"/>
<rect x="564" y="547" width="3" height="3" fill="#ff0000"/>
<rect x="567" y="547" width="3" height="3" fill="#ff0000"/>
<rect x="571" y="547" width="3" height="3" fill="#ff0000"/>
<rect x="575" y="547" width="3" height="3" fill="#ff0000"/>
<rect x="578" y="547" width="3" height="3" fill="#ff0000"/>
<rect x="582" y="547" width="3" height="3" fill="#ff0000"/>
<rect x="586" y="547" width="3" height="3" fill="#ff0000"/>
<rect x="589" y="547" width="3" height="3" fill="#ff0000"/>
<rect x="593" y="547" width="3" height="3" fill="#ff0000"/>
<rect x="597" y="547" width="3" height="3" fill="#ff0000"/>
<rect x="600" y="547" width="3" height="3" fill="#ff0000"/>
<rect x="604" y="547" width="3" height="3" fill="#ff0000"/>
<rect x="608" y="547" width="3" height="3" fill="#ff0000"/>
<rect x="611" y="547" width="3" height="3" fill="#ff0000"/>
<rect x="615" y="547" width="3" height="3" fill="#ff0000"/>
<rect x="619" y="547" width="3" height="3" fill="#ff0000"/>
<rect x="622" y="547" width="3" height="3" fill="#ff0000"/>
<rect x="626" y="547" width="3" height="3" fill="#ff0000"/>
<rect x="630" y="547" width="3" height="3" fill="#ff0000"/>
<rect x="633" y="547" width="3" height="3" fill="#ff0000"/>
<rect x="637" y="547" width="3" height="3" fill="#ff0000"/>
<rect x="641" y="547" width="3" height="3" fill="#ff0000"/>
<rect x="644" y="547" width="3" height="3" fill="#ff0000"/>
<rect x="648" y="547" width="3" height="3" fill="#ff0000"/>
<rect x="652" y="547" width="3" height="3" fill="#ff0000"/>
<rect x="655" y="547" width="3" height="3" fill="#ff0000"/>
<rect x="659" y="547" width="3" height="3" fill="#ff0000"/>
<rect x="663" y="547" width="3" height="3" fill="#ff0000"/>
<rect x="666" y="547" width="3" height="3" fill="#ff0000"/>
<rect x="670" y="547" width="3" height="3" fill="#ff0000"/>
<rect x="674" y="547" width="3" height="3" fill="#ff0000"/>
<rect x="677" y="547" width="3" height="3" fill="#ff0000"/>
<rect x="681" y="547" width="3" height="3" fill="#ff0000"/>
<rect x="685" y="547" width="3" height="3" fill="#ff0000"/>
<rect x="688" y="547" width="3" height="3" fill="#ff0000"/>
<rect x="692" y="547" width="3" height="3" fill="#ff0000"/>
<rect x="696" y="547" width="3" height="3" fill="#ff0000"/>
<rect x="699" y="547" width="3" height="3" fill="#ff0000"/>
<rect x="703" y="589" width="3" height="3" fill="#ff0000"/>
<rect x="707" y="589" width="3" height="3" fill="#ff0000"/>
<rect x="710" y="589" width="3" height="3" fill="#ff0000"/>
</g>
<g id="candB">
<rect x="5" y="577" width="1" height="11" fill="#000"/>
<rect x="4" y="580" width="3" height="7" fill="#000"/>
<rect x="8" y="573" width="1" height="15" fill="#000"/>
<rect x="7" y="584" width="3" height="3" fill="#000"/>
<rect x="12" y="581" width="1" height="8" fill="#000"/>
<rect x="11" y="583" width="3" height="6" fill="#000"/>
<rect x="15" y="571" width="1" height="20" fill="#000"/>
<rect x="14" y="573" width="3" height="7" fill="#000"/>
<rect x="15" y="574" width="1" height="5" fill="#fff"/>
<rect x="19" y="550" width="1" height="21" fill="#000"/>
<rect x="18" y="558" width="3" height="13" fill="#000"/>
<rect x="19" y="559" width="1" height="11" fill="#fff"/>
<rect x="23" y="554" width="1" height="15" fill="#000"/>
<rect x="22" y="558" width="3" height="5" fill="#000"/>
<rect x="26" y="558" width="1" height="6" fill="#000"/>
<rect x="25" y="558" width="3" height="6" fill="#000"/>
<rect x="30" y="557" width="1" height="20" fill="#000"/>
<rect x="29" y="557" width="3" height="9" fill="#000"/>
<rect x="34" y="560" width="1" height="15" fill="#000"/>
<rect x="33" y="560" width="3" height="10" fill="#000"/>
<rect x="37" y="570" width="1" height="7" fill="#000"/>
<rect x="36" y="570" width="3" height="7" fill="#000"/>
<rect x="41" y="575" width="1" height="4" fill="#000"/>
<rect x="40" y="575" width="3" height="2" fill="#000"/>
<rect x="45" y="578" width="1" height="7" fill="#000"/>
<rect x="44" y="578" width="3" height="4" fill="#000"/>
<rect x="48" y="564" width="1" height="19" fill="#000"/>
<rect x="47" y="569" width="3" height="7" fill="#000"/>
<rect x="48" y="570" width="1" height="5" fill="#fff"/>
<rect x="52" y="564" width="1" height="12" fill="#000"/>
<rect x="51" y="567" width="3" height="2" fill="#000"/>
<rect x="56" y="569" width="1" height="8" fill="#000"/>
<rect x="55" y="569" width="3" height="1" fill="#000"/>
<rect x="59" y="572" width="1" height="1" fill="#000"/>
<rect x="58" y="572" width="3" height="1" fill="#000"/>
<rect x="63" y="571" width="1" height="15" fill="#000"/>
<rect x="62" y="571" width="3" height="3" fill="#000"/>
<rect x="67" y="562" width="1" height="20" fill="#000"/>
<rect x="66" y="564" width="3" height="18" fill="#000"/>
<rect x="67" y="565" width="1" height="16" fill="#fff"/>
<rect x="70" y="559" width="1" height="11" fill="#000"/>
<rect x="69" y="564" width="3" height="6" fill="#000"/>
<rect x="70" y="565" width="1" height="4" fill="#fff"/>
<rect x="74" y="564" width="1" height="7" fill="#000"/>
<rect x="73" y="564" width="3" height="2" fill="#000"/>
<rect x="78" y="567" width="1" height="8" fill="#000"/>
<rect x="77" y="567" width="3" height="5" fill="#000"/>
<rect x="78" y="568" width="1" height="3" fill="#fff"/>
<rect x="81" y="561" width="1" height="14" fill="#000"/>
<rect x="80" y="571" width="3" height="2" fill="#000"/>
<rect x="85" y="567" width="1" height="8" fill="#000"/>
<rect x="84" y="567" width="3" height="8" fill="#000"/>
<rect x="85" y="568" width="1" height="6" fill="#fff"/>
<rect x="89" y="563" width="1" height="8" fill="#000"/>
<rect x="88" y="564" width="3" height="7" fill="#000"/>
<rect x="89" y="565" width="1" height="5" fill="#fff"/>
<rect x="92" y="564" width="1" height="14" fill="#000"/>
<rect x="91" y="564" width="3" height="3" fill="#000"/>
<rect x="92" y="565" width="1" height="1" fill="#fff"/>
<rect x="96" y="567" width="1" height="6" fill="#000"/>
<rect x="95" y="567" width="3" height="6" fill="#000"/>
<rect x="100" y="573" width="1" height="5" fill="#000"/>
<rect x="99" y="573" width="3" height="2" fill="#000"/>
<rect x="103" y="568" width="1" height="16" fill="#000"/>
<rect x="102" y="568" width="3" height="10" fill="#000"/>
<rect x="103" y="569" width="1" height="8" fill="#fff"/>
<rect x="107" y="570" width="1" height="10" fill="#000"/>
<rect x="106" y="572" width="3" height="5" fill="#000"/>
<rect x="107" y="573" width="1" height="3" fill="#fff"/>
<rect x="111" y="569" width="1" height="18" fill="#000"/>
<rect x="110" y="574" width="3" height="8" fill="#000"/>
<rect x="114" y="573" width="1" height="12" fill="#000"/>
<rect x="113" y="573" width="3" height="12" fill="#000"/>
<rect x="114" y="574" width="1" height="10" fill="#fff"/>
<rect x="118" y="579" width="1" height="7" fill="#000"/>
<rect x="117" y="579" width="3" height="7" fill="#000"/>
<rect x="122" y="584" width="1" height="11" fill="#000"/>
<rect x="121" y="586" width="3" height="5" fill="#000"/>
<rect x="125" y="591" width="1" height="9" fill="#000"/>
<rect x="124" y="591" width="3" height="8" fill="#000"/>
<rect x="129" y="575" width="1" height="31" fill="#000"/>
<rect x="128" y="599" width="3" height="2" fill="#000"/>
<rect x="133" y="593" width="1" height="24" fill="#000"/>
<rect x="132" y="593" width="3" height="17" fill="#000"/>
<rect x="136" y="602" width="1" height="39" fill="#000"/>
<rect x="135" y="602" width="3" height="23" fill="#000"/>
<rect x="140" y="612" width="1" height="19" fill="#000"/>
<rect x="139" y="619" width="3" height="12" fill="#000"/>
<rect x="144" y="612" width="1" height="14" fill="#000"/>
<rect x="143" y="617" width="3" height="9" fill="#000"/>
<rect x="144" y="618" width="1" height="7" fill="#fff"/>
<rect x="147" y="613" width="1" height="12" fill="#000"/>
<rect x="146" y="616" width="3" height="9" fill="#000"/>
<rect x="147" y="617" width="1" height="7" fill="#fff"/>
<rect x="151" y="615" width="1" height="9" fill="#000"/>
<rect x="150" y="620" width="3" height="4" fill="#000"/>
<rect x="151" y="621" width="1" height="2" fill="#fff"/>
<rect x="155" y="615" width="1" height="7" fill="#000"/>
<rect x="154" y="620" width="3" height="2" fill="#000"/>
<rect x="158" y="617" width="1" height="14" fill="#000"/>
<rect x="157" y="626" width="3" height="5" fill="#000"/>
<rect x="158" y="627" width="1" height="3" fill="#fff"/>
<rect x="162" y="626" width="1" height="1" fill="#000"/>
<rect x="161" y="626" width="3" height="1" fill="#000"/>
<rect x="166" y="629" width="1" height="3" fill="#000"/>
<rect x="165" y="629" width="3" height="1" fill="#000"/>
<rect x="169" y="618" width="1" height="16" fill="#000"/>
<rect x="168" y="631" width="3" height="2" fill="#000"/>
<rect x="173" y="620" width="1" height="19" fill="#000"/>
<rect x="172" y="626" width="3" height="13" fill="#000"/>
<rect x="177" y="628" width="1" height="16" fill="#000"/>
<rect x="176" y="635" width="3" height="9" fill="#000"/>
<rect x="180" y="645" width="1" height="9" fill="#000"/>
<rect x="179" y="647" width="3" height="3" fill="#000"/>
<rect x="184" y="651" width="1" height="9" fill="#000"/>
<rect x="183" y="655" width="3" height="3" fill="#000"/>
<rect x="188" y="648" width="1" height="9" fill="#000"/>
<rect x="187" y="648" width="3" height="9" fill="#000"/>
<rect x="188" y="649" width="1" height="7" fill="#fff"/>
<rect x="191" y="625" width="1" height="30" fill="#000"/>
<rect x="190" y="628" width="3" height="27" fill="#000"/>
<rect x="191" y="629" width="1" height="25" fill="#fff"/>
<rect x="195" y="621" width="1" height="11" fill="#000"/>
<rect x="194" y="627" width="3" height="5" fill="#000"/>
<rect x="199" y="619" width="1" height="10" fill="#000"/>
<rect x="198" y="619" width="3" height="9" fill="#000"/>
<rect x="199" y="620" width="1" height="7" fill="#fff"/>
<rect x="202" y="616" width="1" height="14" fill="#000"/>
<rect x="201" y="616" width="3" height="14" fill="#000"/>
<rect x="206" y="620" width="1" height="8" fill="#000"/>
<rect x="205" y="625" width="3" height="1" fill="#000"/>
<rect x="210" y="614" width="1" height="21" fill="#000"/>
<rect x="209" y="619" width="3" height="11" fill="#000"/>
<rect x="213" y="625" width="1" height="9" fill="#000"/>
<rect x="212" y="628" width="3" height="2" fill="#000"/>
<rect x="217" y="624" width="1" height="4" fill="#000"/>
<rect x="216" y="624" width="3" height="4" fill="#000"/>
<rect x="217" y="625" width="1" height="2" fill="#fff"/>
<rect x="221" y="625" width="1" height="1" fill="#000"/>
<rect x="220" y="625" width="3" height="1" fill="#000"/>
<rect x="224" y="623" width="1" height="4" fill="#000"/>
<rect x="223" y="626" width="3" height="1" fill="#000"/>
<rect x="228" y="623" width="1" height="4" fill="#000"/>
<rect x="227" y="626" width="3" height="1" fill="#000"/>
<rect x="232" y="624" width="1" height="4" fill="#000"/>
<rect x="231" y="625" width="3" height="1" fill="#000"/>
<rect x="235" y="620" width="1" height="6" fill="#000"/>
<rect x="234" y="624" width="3" height="2" fill="#000"/>
<rect x="239" y="631" width="1" height="1" fill="#000"/>
<rect x="238" y="631" width="3" height="1" fill="#000"/>
<rect x="243" y="625" width="1" height="12" fill="#000"/>
<rect x="242" y="631" width="3" height="3" fill="#000"/>
<rect x="246" y="627" width="1" height="9" fill="#000"/>
<rect x="245" y="632" width="3" height="4" fill="#000"/>
<rect x="250" y="630" width="1" height="9" fill="#000"/>
<rect x="249" y="632" width="3" height="7" fill="#000"/>
<rect x="253" y="635" width="1" height="3" fill="#000"/>
<rect x="252" y="635" width="3" height="3" fill="#000"/>
<rect x="257" y="628" width="1" height="10" fill="#000"/>
<rect x="256" y="629" width="3" height="9" fill="#000"/>
<rect x="257" y="630" width="1" height="7" fill="#fff"/>
<rect x="261" y="628" width="1" height="11" fill="#000"/>
<rect x="260" y="635" width="3" height="4" fill="#000"/>
<rect x="264" y="636" width="1" height="2" fill="#000"/>
<rect x="263" y="636" width="3" height="2" fill="#000"/>
<rect x="268" y="630" width="1" height="11" fill="#000"/>
<rect x="267" y="638" width="3" height="3" fill="#000"/>
<rect x="272" y="637" width="1" height="14" fill="#000"/>
<rect x="271" y="641" width="3" height="10" fill="#000"/>
<rect x="275" y="640" width="1" height="10" fill="#000"/>
<rect x="274" y="640" width="3" height="10" fill="#000"/>
<rect x="275" y="641" width="1" height="8" fill="#fff"/>
<rect x="279" y="643" width="1" height="5" fill="#000"/>
<rect x="278" y="645" width="3" height="3" fill="#000"/>
<rect x="279" y="646" width="1" height="1" fill="#fff"/>
<rect x="283" y="643" width="1" height="10" fill="#000"/>
<rect x="282" y="649" width="3" height="3" fill="#000"/>
<rect x="286" y="651" width="1" height="8" fill="#000"/>
<rect x="285" y="651" width="3" height="3" fill="#000"/>
<rect x="290" y="639" width="1" height="14" fill="#000"/>
<rect x="289" y="648" width="3" height="5" fill="#000"/>
<rect x="290" y="649" width="1" height="3" fill="#fff"/>
<rect x="294" y="638" width="1" height="14" fill="#000"/>
<rect x="293" y="646" width="3" height="6" fill="#000"/>
<rect x="294" y="647" width="1" height="4" fill="#fff"/>
<rect x="297" y="645" width="1" height="4" fill="#000"/>
<rect x="296" y="645" width="3" height="4" fill="#000"/>
<rect x="297" y="646" width="1" height="2" fill="#fff"/>
<rect x="301" y="623" width="1" height="29" fill="#000"/>
<rect x="300" y="633" width="3" height="19" fill="#000"/>
<rect x="301" y="634" width="1" height="17" fill="#fff"/>
<rect x="305" y="626" width="1" height="10" fill="#000"/>
<rect x="304" y="628" width="3" height="7" fill="#000"/>
<rect x="305" y="629" width="1" height="5" fill="#fff"/>
<rect x="308" y="624" width="1" height="9" fill="#000"/>
<rect x="307" y="624" width="3" height="9" fill="#000"/>
<rect x="308" y="625" width="1" height="7" fill="#fff"/>
<rect x="312" y="602" width="1" height="29" fill="#000"/>
<rect x="311" y="605" width="3" height="18" fill="#000"/>
<rect x="312" y="606" width="1" height="16" fill="#fff"/>
<rect x="316" y="607" width="1" height="18" fill="#000"/>
<rect x="315" y="610" width="3" height="12" fill="#000"/>
<rect x="319" y="619" width="1" height="19" fill="#000"/>
<rect x="318" y="624" width="3" height="14" fill="#000"/>
<rect x="323" y="623" width="1" height="16" fill="#000"/>
<rect x="322" y="632" width="3" height="7" fill="#000"/>
<rect x="323" y="633" width="1" height="5" fill="#fff"/>
<rect x="327" y="624" width="1" height="6" fill="#000"/>
<rect x="326" y="627" width="3" height="2" fill="#000"/>
<rect x="330" y="620" width="1" height="23" fill="#000"/>
<rect x="329" y="628" width="3" height="15" fill="#000"/>
<rect x="334" y="629" width="1" height="31" fill="#000"/>
<rect x="333" y="629" width="3" height="31" fill="#000"/>
<rect x="338" y="648" width="1" height="12" fill="#000"/>
<rect x="337" y="659" width="3" height="1" fill="#000"/>
<rect x="341" y="653" width="1" height="6" fill="#000"/>
<rect x="340" y="655" width="3" height="4" fill="#000"/>
<rect x="341" y="656" width="1" height="2" fill="#fff"/>
<rect x="345" y="644" width="1" height="8" fill="#000"/>
<rect x="344" y="649" width="3" height="3" fill="#000"/>
<rect x="349" y="647" width="1" height="8" fill="#000"/>
<rect x="348" y="647" width="3" height="8" fill="#000"/>
<rect x="352" y="651" width="1" height="2" fill="#000"/>
<rect x="351" y="651" width="3" height="2" fill="#000"/>
<rect x="356" y="652" width="1" height="4" fill="#000"/>
<rect x="355" y="652" width="3" height="4" fill="#000"/>
<rect x="360" y="648" width="1" height="11" fill="#000"/>
<rect x="359" y="653" width="3" height="6" fill="#000"/>
<rect x="363" y="648" width="1" height="11" fill="#000"/>
<rect x="362" y="653" width="3" height="6" fill="#000"/>
<rect x="367" y="654" width="1" height="1" fill="#000"/>
<rect x="366" y="654" width="3" height="1" fill="#000"/>
<rect x="371" y="651" width="1" height="9" fill="#000"/>
<rect x="370" y="651" width="3" height="9" fill="#000"/>
<rect x="374" y="654" width="1" height="3" fill="#000"/>
<rect x="373" y="654" width="3" height="3" fill="#000"/>
<rect x="378" y="654" width="1" height="3" fill="#000"/>
<rect x="377" y="654" width="3" height="3" fill="#000"/>
<rect x="382" y="653" width="1" height="1" fill="#000"/>
<rect x="381" y="653" width="3" height="1" fill="#000"/>
<rect x="385" y="646" width="1" height="8" fill="#000"/>
<rect x="384" y="646" width="3" height="5" fill="#000"/>
<rect x="385" y="647" width="1" height="3" fill="#fff"/>
<rect x="389" y="644" width="1" height="6" fill="#000"/>
<rect x="388" y="648" width="3" height="2" fill="#000"/>
<rect x="393" y="646" width="1" height="4" fill="#000"/>
<rect x="392" y="646" width="3" height="2" fill="#000"/>
<rect x="396" y="631" width="1" height="16" fill="#000"/>
<rect x="395" y="633" width="3" height="12" fill="#000"/>
<rect x="396" y="634" width="1" height="10" fill="#fff"/>
<rect x="400" y="637" width="1" height="2" fill="#000"/>
<rect x="399" y="637" width="3" height="2" fill="#000"/>
<rect x="404" y="624" width="1" height="15" fill="#000"/>
<rect x="403" y="625" width="3" height="14" fill="#000"/>
<rect x="404" y="626" width="1" height="12" fill="#fff"/>
<rect x="407" y="626" width="1" height="9" fill="#000"/>
<rect x="406" y="626" width="3" height="6" fill="#000"/>
<rect x="407" y="627" width="1" height="4" fill="#fff"/>
<rect x="411" y="627" width="1" height="2" fill="#000"/>
<rect x="410" y="627" width="3" height="2" fill="#000"/>
<rect x="415" y="611" width="1" height="20" fill="#000"/>
<rect x="414" y="611" width="3" height="20" fill="#000"/>
<rect x="415" y="612" width="1" height="18" fill="#fff"/>
<rect x="418" y="597" width="1" height="16" fill="#000"/>
<rect x="417" y="605" width="3" height="8" fill="#000"/>
<rect x="418" y="606" width="1" height="6" fill="#fff"/>
<rect x="422" y="600" width="1" height="4" fill="#000"/>
<rect x="421" y="600" width="3" height="2" fill="#000"/>
<rect x="426" y="599" width="1" height="5" fill="#000"/>
<rect x="425" y="600" width="3" height="3" fill="#000"/>
<rect x="429" y="603" width="1" height="1" fill="#000"/>
<rect x="428" y="603" width="3" height="1" fill="#000"/>
<rect x="433" y="602" width="1" height="29" fill="#000"/>
<rect x="432" y="602" width="3" height="4" fill="#000"/>
<rect x="433" y="603" width="1" height="2" fill="#fff"/>
<rect x="437" y="602" width="1" height="10" fill="#000"/>
<rect x="436" y="604" width="3" height="6" fill="#000"/>
<rect x="440" y="602" width="1" height="16" fill="#000"/>
<rect x="439" y="602" width="3" height="2" fill="#000"/>
<rect x="444" y="599" width="1" height="19" fill="#000"/>
<rect x="443" y="599" width="3" height="19" fill="#000"/>
<rect x="444" y="600" width="1" height="17" fill="#fff"/>
<rect x="448" y="601" width="1" height="11" fill="#000"/>
<rect x="447" y="601" width="3" height="6" fill="#000"/>
<rect x="451" y="443" width="1" height="164" fill="#000"/>
<rect x="450" y="492" width="3" height="112" fill="#000"/>
<rect x="451" y="493" width="1" height="110" fill="#fff"/>
<rect x="455" y="465" width="1" height="69" fill="#000"/>
<rect x="454" y="498" width="3" height="26" fill="#000"/>
<rect x="459" y="469" width="1" height="106" fill="#000"/>
<rect x="458" y="502" width="3" height="69" fill="#000"/>
<rect x="462" y="517" width="1" height="42" fill="#000"/>
<rect x="461" y="538" width="3" height="21" fill="#000"/>
<rect x="462" y="539" width="1" height="19" fill="#fff"/>
<rect x="466" y="432" width="1" height="135" fill="#000"/>
<rect x="465" y="536" width="3" height="16" fill="#000"/>
<rect x="470" y="548" width="1" height="159" fill="#000"/>
<rect x="469" y="561" width="3" height="146" fill="#000"/>
<rect x="473" y="708" width="1" height="3" fill="#000"/>
<rect x="472" y="708" width="3" height="3" fill="#000"/>
<rect x="473" y="709" width="1" height="1" fill="#fff"/>
<rect x="477" y="705" width="1" height="4" fill="#000"/>
<rect x="476" y="708" width="3" height="1" fill="#000"/>
<rect x="481" y="703" width="1" height="7" fill="#000"/>
<rect x="480" y="709" width="3" height="1" fill="#000"/>
<rect x="484" y="709" width="1" height="1" fill="#000"/>
<rect x="483" y="709" width="3" height="1" fill="#000"/>
<rect x="488" y="709" width="1" height="2" fill="#000"/>
<rect x="487" y="709" width="3" height="2" fill="#000"/>
<rect x="491" y="709" width="1" height="1" fill="#000"/>
<rect x="490" y="709" width="3" height="1" fill="#000"/>
<rect x="495" y="710" width="1" height="1" fill="#000"/>
<rect x="494" y="710" width="3" height="1" fill="#000"/>
<rect x="499" y="710" width="1" height="1" fill="#000"/>
<rect x="498" y="710" width="3" height="1" fill="#000"/>
<rect x="502" y="710" width="1" height="1" fill="#000"/>
<rect x="501" y="710" width="3" height="1" fill="#000"/>
<rect x="506" y="709" width="1" height="3" fill="#000"/>
<rect x="505" y="709" width="3" height="3" fill="#000"/>
<rect x="506" y="710" width="1" height="1" fill="#fff"/>
<rect x="510" y="708" width="1" height="2" fill="#000"/>
<rect x="509" y="708" width="3" height="2" fill="#000"/>
<rect x="513" y="708" width="1" height="2" fill="#000"/>
<rect x="512" y="708" width="3" height="2" fill="#000"/>
<rect x="517" y="709" width="1" height="1" fill="#000"/>
<rect x="516" y="709" width="3" height="1" fill="#000"/>
<rect x="521" y="709" width="1" height="1" fill="#000"/>
<rect x="520" y="709" width="3" height="1" fill="#000"/>
<rect x="524" y="708" width="1" height="2" fill="#000"/>
<rect x="523" y="708" width="3" height="2" fill="#000"/>
<rect x="528" y="701" width="1" height="9" fill="#000"/>
<rect x="527" y="703" width="3" height="7" fill="#000"/>
<rect x="528" y="704" width="1" height="5" fill="#fff"/>
<rect x="532" y="708" width="1" height="1" fill="#000"/>
<rect x="531" y="708" width="3" height="1" fill="#000"/>
<rect x="535" y="709" width="1" height="1" fill="#000"/>
<rect x="534" y="709" width="3" height="1" fill="#000"/>
<rect x="539" y="709" width="1" height="1" fill="#000"/>
<rect x="538" y="709" width="3" height="1" fill="#000"/>
<rect x="543" y="709" width="1" height="1" fill="#000"/>
<rect x="542" y="709" width="3" height="1" fill="#000"/>
<rect x="546" y="710" width="1" height="2" fill="#000"/>
<rect x="545" y="710" width="3" height="2" fill="#000"/>
<rect x="550" y="710" width="1" height="2" fill="#000"/>
<rect x="549" y="710" width="3" height="2" fill="#000"/>
<rect x="554" y="711" width="1" height="1" fill="#000"/>
<rect x="553" y="711" width="3" height="1" fill="#000"/>
<rect x="557" y="711" width="1" height="1" fill="#000"/>
<rect x="556" y="711" width="3" height="1" fill="#000"/>
<rect x="561" y="709" width="1" height="3" fill="#000"/>
<rect x="560" y="709" width="3" height="3" fill="#000"/>
<rect x="561" y="710" width="1" height="1" fill="#fff"/>
<rect x="565" y="710" width="1" height="2" fill="#000"/>
<rect x="564" y="710" width="3" height="2" fill="#000"/>
<rect x="568" y="710" width="1" height="2" fill="#000"/>
<rect x="567" y="710" width="3" height="2" fill="#000"/>
<rect x="572" y="710" width="1" height="2" fill="#000"/>
<rect x="571" y="710" width="3" height="2" fill="#000"/>
<rect x="576" y="710" width="1" height="2" fill="#000"/>
<rect x="575" y="710" width="3" height="2" fill="#000"/>
<rect x="579" y="710" width="1" height="2" fill="#000"/>
<rect x="578" y="710" width="3" height="2" fill="#000"/>
<rect x="583" y="710" width="1" height="2" fill="#000"/>
<rect x="582" y="710" width="3" height="2" fill="#000"/>
<rect x="587" y="710" width="1" height="2" fill="#000"/>
<rect x="586" y="710" width="3" height="2" fill="#000"/>
<rect x="590" y="710" width="1" height="2" fill="#000"/>
<rect x="589" y="710" width="3" height="2" fill="#000"/>
<rect x="594" y="710" width="1" height="2" fill="#000"/>
<rect x="593" y="710" width="3" height="2" fill="#000"/>
<rect x="598" y="712" width="1" height="3" fill="#000"/>
<rect x="597" y="712" width="3" height="3" fill="#000"/>
<rect x="601" y="713" width="1" height="2" fill="#000"/>
<rect x="600" y="713" width="3" height="2" fill="#000"/>
<rect x="605" y="713" width="1" height="3" fill="#000"/>
<rect x="604" y="713" width="3" height="3" fill="#000"/>
<rect x="605" y="714" width="1" height="1" fill="#fff"/>
<rect x="609" y="713" width="1" height="2" fill="#000"/>
<rect x="608" y="713" width="3" height="2" fill="#000"/>
<rect x="612" y="713" width="1" height="2" fill="#000"/>
<rect x="611" y="713" width="3" height="2" fill="#000"/>
<rect x="616" y="713" width="1" height="2" fill="#000"/>
<rect x="615" y="713" width="3" height="2" fill="#000"/>
<rect x="620" y="714" width="1" height="1" fill="#000"/>
<rect x="619" y="714" width="3" height="1" fill="#000"/>
<rect x="623" y="714" width="1" height="1" fill="#000"/>
<rect x="622" y="714" width="3" height="1" fill="#000"/>
<rect x="627" y="714" width="1" height="1" fill="#000"/>
<rect x="626" y="714" width="3" height="1" fill="#000"/>
<rect x="631" y="714" width="1" height="2" fill="#000"/>
<rect x="630" y="714" width="3" height="2" fill="#000"/>
<rect x="634" y="714" width="1" height="2" fill="#000"/>
<rect x="633" y="714" width="3" height="2" fill="#000"/>
<rect x="638" y="723" width="1" height="1" fill="#000"/>
<rect x="637" y="723" width="3" height="1" fill="#000"/>
<rect x="642" y="722" width="1" height="2" fill="#000"/>
<rect x="641" y="722" width="3" height="2" fill="#000"/>
<rect x="645" y="724" width="1" height="1" fill="#000"/>
<rect x="644" y="724" width="3" height="1" fill="#000"/>
<rect x="649" y="724" width="1" height="1" fill="#000"/>
<rect x="648" y="724" width="3" height="1" fill="#000"/>
<rect x="653" y="722" width="1" height="2" fill="#000"/>
<rect x="652" y="722" width="3" height="2" fill="#000"/>
<rect x="656" y="722" width="1" height="2" fill="#000"/>
<rect x="655" y="722" width="3" height="2" fill="#000"/>
<rect x="660" y="723" width="1" height="1" fill="#000"/>
<rect x="659" y="723" width="3" height="1" fill="#000"/>
<rect x="664" y="724" width="1" height="1" fill="#000"/>
<rect x="663" y="724" width="3" height="1" fill="#000"/>
<rect x="667" y="724" width="1" height="1" fill="#000"/>
<rect x="666" y="724" width="3" height="1" fill="#000"/>
<rect x="671" y="724" width="1" height="1" fill="#000"/>
<rect x="670" y="724" width="3" height="1" fill="#000"/>
<rect x="675" y="722" width="1" height="3" fill="#000"/>
<rect x="674" y="723" width="3" height="2" fill="#000"/>
<rect x="678" y="723" width="1" height="1" fill="#000"/>
<rect x="677" y="723" width="3" height="1" fill="#000"/>
<rect x="682" y="724" width="1" height="1" fill="#000"/>
<rect x="681" y="724" width="3" height="1" fill="#000"/>
<rect x="686" y="722" width="1" height="2" fill="#000"/>
<rect x="685" y="722" width="3" height="2" fill="#000"/>
<rect x="689" y="723" width="1" height="1" fill="#000"/>
<rect x="688" y="723" width="3" height="1" fill="#000"/>
<rect x="693" y="722" width="1" height="4" fill="#000"/>
<rect x="692" y="722" width="3" height="4" fill="#000"/>
<rect x="697" y="725" width="1" height="1" fill="#000"/>
<rect x="696" y="725" width="3" height="1" fill="#000"/>
<rect x="700" y="581" width="1" height="26" fill="#000"/>
<rect x="699" y="586" width="3" height="9" fill="#000"/>
<rect x="704" y="591" width="1" height="28" fill="#000"/>
<rect x="703" y="596" width="3" height="20" fill="#000"/>
<rect x="708" y="616" width="1" height="5" fill="#000"/>
<rect x="707" y="618" width="3" height="2" fill="#000"/>
<rect x="711" y="587" width="1" height="34" fill="#000"/>
<rect x="710" y="618" width="3" height="2" fill="#000"/>
</g>
<rect x="92" y="550" width="9" height="1" fill="#ff0000"/>
<rect x="92" y="551" width="9" height="1" fill="#ff0000"/>
<rect x="93" y="552" width="7" height="1" fill="#ff0000"/>
<rect x="93" y="553" width="7" height="1" fill="#ff0000"/>
<rect x="94" y="554" width="5" height="1" fill="#ff0000"/>
<rect x="94" y="555" width="5" height="1" fill="#ff0000"/>
<rect x="95" y="556" width="3" height="1" fill="#ff0000"/>
<rect x="95" y="557" width="3" height="1" fill="#ff0000"/>
<rect x="96" y="558" width="1" height="1" fill="#ff0000"/>
<rect x="95" y="544" width="3" height="6" fill="#ff0000"/>
<rect x="239" y="608" width="9" height="1" fill="#ff0000"/>
<rect x="239" y="609" width="9" height="1" fill="#ff0000"/>
<rect x="240" y="610" width="7" height="1" fill="#ff0000"/>
<rect x="240" y="611" width="7" height="1" fill="#ff0000"/>
<rect x="241" y="612" width="5" height="1" fill="#ff0000"/>
<rect x="241" y="613" width="5" height="1" fill="#ff0000"/>
<rect x="242" y="614" width="3" height="1" fill="#ff0000"/>
<rect x="242" y="615" width="3" height="1" fill="#ff0000"/>
<rect x="243" y="616" width="1" height="1" fill="#ff0000"/>
<rect x="242" y="602" width="3" height="6" fill="#ff0000"/>
<rect x="323" y="606" width="9" height="1" fill="#ff0000"/>
<rect x="323" y="607" width="9" height="1" fill="#ff0000"/>
<rect x="324" y="608" width="7" height="1" fill="#ff0000"/>
<rect x="324" y="609" width="7" height="1" fill="#ff0000"/>
<rect x="325" y="610" width="5" height="1" fill="#ff0000"/>
<rect x="325" y="611" width="5" height="1" fill="#ff0000"/>
<rect x="326" y="612" width="3" height="1" fill="#ff0000"/>
<rect x="326" y="613" width="3" height="1" fill="#ff0000"/>
<rect x="327" y="614" width="1" height="1" fill="#ff0000"/>
<rect x="326" y="600" width="3" height="6" fill="#ff0000"/>
<rect x="466" y="532" width="9" height="1" fill="#ff0000"/>
<rect x="466" y="533" width="9" height="1" fill="#ff0000"/>
<rect x="467" y="534" width="7" height="1" fill="#ff0000"/>
<rect x="467" y="535" width="7" height="1" fill="#ff0000"/>
<rect x="468" y="536" width="5" height="1" fill="#ff0000"/>
<rect x="468" y="537" width="5" height="1" fill="#ff0000"/>
<rect x="469" y="538" width="3" height="1" fill="#ff0000"/>
<rect x="469" y="539" width="3" height="1" fill="#ff0000"/>
<rect x="470" y="540" width="1" height="1" fill="#ff0000"/>
<rect x="469" y="526" width="3" height="6" fill="#ff0000"/>
<rect x="693" y="709" width="9" height="1" fill="#ff0000"/>
<rect x="693" y="710" width="9" height="1" fill="#ff0000"/>
<rect x="694" y="711" width="7" height="1" fill="#ff0000"/>
<rect x="694" y="712" width="7" height="1" fill="#ff0000"/>
<rect x="695" y="713" width="5" height="1" fill="#ff0000"/>
<rect x="695" y="714" width="5" height="1" fill="#ff0000"/>
<rect x="696" y="715" width="3" height="1" fill="#ff0000"/>
<rect x="696" y="716" width="3" height="1" fill="#ff0000"/>
<rect x="697" y="717" width="1" height="1" fill="#ff0000"/>
<rect x="696" y="703" width="3" height="6" fill="#ff0000"/>
<rect x="67" y="589" width="1" height="1" fill="#008000"/>
<rect x="66" y="590" width="3" height="1" fill="#008000"/>
<rect x="66" y="591" width="3" height="1" fill="#008000"/>
<rect x="65" y="592" width="5" height="1" fill="#008000"/>
<rect x="65" y="593" width="5" height="1" fill="#008000"/>
<rect x="64" y="594" width="7" height="1" fill="#008000"/>
<rect x="64" y="595" width="7" height="1" fill="#008000"/>
<rect x="63" y="596" width="9" height="1" fill="#008000"/>
<rect x="63" y="597" width="9" height="1" fill="#008000"/>
<rect x="66" y="598" width="3" height="6" fill="#008000"/>
<rect x="195" y="640" width="1" height="1" fill="#008000"/>
<rect x="194" y="641" width="3" height="1" fill="#008000"/>
<rect x="194" y="642" width="3" height="1" fill="#008000"/>
<rect x="193" y="643" width="5" height="1" fill="#008000"/>
<rect x="193" y="644" width="5" height="1" fill="#008000"/>
<rect x="192" y="645" width="7" height="1" fill="#008000"/>
<rect x="192" y="646" width="7" height="1" fill="#008000"/>
<rect x="191" y="647" width="9" height="1" fill="#008000"/>
<rect x="191" y="648" width="9" height="1" fill="#008000"/>
<rect x="194" y="649" width="3" height="6" fill="#008000"/>
<rect x="297" y="655" width="1" height="1" fill="#008000"/>
<rect x="296" y="656" width="3" height="1" fill="#008000"/>
<rect x="296" y="657" width="3" height="1" fill="#008000"/>
<rect x="295" y="658" width="5" height="1" fill="#008000"/>
<rect x="295" y="659" width="5" height="1" fill="#008000"/>
<rect x="294" y="660" width="7" height="1" fill="#008000"/>
<rect x="294" y="661" width="7" height="1" fill="#008000"/>
<rect x="293" y="662" width="9" height="1" fill="#008000"/>
<rect x="293" y="663" width="9" height="1" fill="#008000"/>
<rect x="296" y="664" width="3" height="6" fill="#008000"/>
<rect x="385" y="661" width="1" height="1" fill="#008000"/>
<rect x="384" y="662" width="3" height="1" fill="#008000"/>
<rect x="384" y="663" width="3" height="1" fill="#008000"/>
<rect x="383" y="664" width="5" height="1" fill="#008000"/>
<rect x="383" y="665" width="5" height="1" fill="#008000"/>
<rect x="382" y="666" width="7" height="1" fill="#008000"/>
<rect x="382" y="667" width="7" height="1" fill="#008000"/>
<rect x="381" y="668" width="9" height="1" fill="#008000"/>
<rect x="381" y="669" width="9" height="1" fill="#008000"/>
<rect x="384" y="670" width="3" height="6" fill="#008000"/>
<rect x="532" y="716" width="1" height="1" fill="#008000"/>
<rect x="531" y="717" width="3" height="1" fill="#008000"/>
<rect x="531" y="718" width="3" height="1" fill="#008000"/>
<rect x="530" y="719" width="5" height="1" fill="#008000"/>
<rect x="530" y="720" width="5" height="1" fill="#008000"/>
<rect x="529" y="721" width="7" height="1" fill="#008000"/>
<rect x="529" y="722" width="7" height="1" fill="#008000"/>
<rect x="528" y="723" width="9" height="1" fill="#008000"/>
<rect x="528" y="724" width="9" height="1" fill="#008000"/>
<rect x="531" y="725" width="3" height="6" fill="#008000"/>
<rect x="565" y="718" width="1" height="1" fill="#008000"/>
<rect x="564" y="719" width="3" height="1" fill="#008000"/>
<rect x="564" y="720" width="3" height="1" fill="#008000"/>
<rect x="563" y="721" width="5" height="1" fill="#008000"/>
<rect x="563" y="722" width="5" height="1" fill="#008000"/>
<rect x="562" y="723" width="7" height="1" fill="#008000"/>
<rect x="562" y="724" width="7" height="1" fill="#008000"/>
<rect x="561" y="725" width="9" height="1" fill="#008000"/>
<rect x="561" y="726" width="9" height="1" fill="#008000"/>
<rect x="564" y="727" width="3" height="6" fill="#008000"/>
<rect x="587" y="718" width="1" height="1" fill="#008000"/>
<rect x="586" y="719" width="3" height="1" fill="#008000"/>
<rect x="586" y="720" width="3" height="1" fill="#008000"/>
<rect x="585" y="721" width="5" height="1" fill="#008000"/>
<rect x="585" y="722" width="5" height="1" fill="#008000"/>
<rect x="584" y="723" width="7" height="1" fill="#008000"/>
<rect x="584" y="724" width="7" height="1" fill="#008000"/>
<rect x="583" y="725" width="9" height="1" fill="#008000"/>
<rect x="583" y="726" width="9" height="1" fill="#008000"/>
<rect x="586" y="727" width="3" height="6" fill="#008000"/>
<rect x="686" y="731" width="1" height="1" fill="#008000"/>
<rect x="685" y="732" width="3" height="1" fill="#008000"/>
<rect x="685" y="733" width="3" height="1" fill="#008000"/>
<rect x="684" y="734" width="5" height="1" fill="#008000"/>
<rect x="684" y="735" width="5" height="1" fill="#008000"/>
<rect x="683" y="736" width="7" height="1" fill="#008000"/>
<rect x="683" y="737" width="7" height="1" fill="#008000"/>
<rect x="682" y="738" width="9" height="1" fill="#008000"/>
<rect x="682" y="739" width="9" height="1" fill="#008000"/>
<rect x="685" y="740" width="3" height="6" fill="#008000"/>
<rect x="700" y="615" width="1" height="1" fill="#008000"/>
<rect x="699" y="616" width="3" height="1" fill="#008000"/>
<rect x="699" y="617" width="3" height="1" fill="#008000"/>
<rect x="698" y="618" width="5" height="1" fill="#008000"/>
<rect x="698" y="619" width="5" height="1" fill="#008000"/>
<rect x="697" y="620" width="7" height="1" fill="#008000"/>
<rect x="697" y="621" width="7" height="1" fill="#008000"/>
<rect x="696" y="622" width="9" height="1" fill="#008000"/>
<rect x="696" y="623" width="9" height="1" fill="#008000"/>
<rect x="699" y="624" width="3" height="6" fill="#008000"/>
<rect x="23" y="731" width="1" height="8" fill="#000"/>
<text x="27" y="743" font-family="Liberation Sans, sans-serif" font-size="12px" fill="#000" text-anchor="start" >2025</text>
<rect x="96" y="731" width="1" height="8" fill="#000"/>
<text x="100" y="743" font-family="Liberation Sans, sans-serif" font-size="12px" fill="#000" text-anchor="start" >Feb</text>
<rect x="166" y="731" width="1" height="8" fill="#000"/>
<text x="170" y="743" font-family="Liberation Sans, sans-serif" font-size="12px" fill="#000" text-anchor="start" >Mar</text>
<rect x="243" y="731" width="1" height="8" fill="#000"/>
<text x="247" y="743" font-family="Liberation Sans, sans-serif" font-size="12px" fill="#000" text-anchor="start" >Apr</text>
<rect x="319" y="731" width="1" height="8" fill="#000"/>
<text x="323" y="743" font-family="Liberation Sans, sans-serif" font-size="12px" fill="#000" text-anchor="start" >May</text>
<rect x="396" y="731" width="1" height="8" fill="#000"/>
<text x="400" y="743" font-family="Liberation Sans, sans-serif" font-size="12px" fill="#000" text-anchor="start" >Jun</text>
<rect x="470" y="731" width="1" height="8" fill="#000"/>
<text x="474" y="743" font-family="Liberation Sans, sans-serif" font-size="12px" fill="#000" text-anchor="start" >Jul</text>
<rect x="550" y="731" width="1" height="8" fill="#000"/>
<text x="554" y="743" font-family="Liberation Sans, sans-serif" font-size="12px" fill="#000" text-anchor="start" >Aug</text>
<rect x="627" y="731" width="1" height="8" fill="#000"/>
<text x="631" y="743" font-family="Liberation Sans, sans-serif" font-size="12px" fill="#000" text-anchor="start" >Sep</text>
<rect x="704" y="731" width="1" height="8" fill="#000"/>
<text x="708" y="743" font-family="Liberation Sans, sans-serif" font-size="12px" fill="#000" text-anchor="start" >Oct</text>
<text x="776" y="435" font-family="Liberation Sans, sans-serif" font-size="12px" fill="#000" text-anchor="end" >7</text>
<text x="776" y="477" font-family="Liberation Sans, sans-serif" font-size="12px" fill="#000" text-anchor="end" >6</text>
<text x="776" y="520" font-family="Liberation Sans, sans-serif" font-size="12px" fill="#000" text-anchor="end" >5</text>
<text x="776" y="562" font-family="Liberation Sans, sans-serif" font-size="12px" fill="#000" text-anchor="end" >4</text>
<text x="776" y="604" font-family="Liberation Sans, sans-serif" font-size="12px" fill="#000" text-anchor="end" >3</text>
<text x="776" y="646" font-family="Liberation Sans, sans-serif" font-size="12px" fill="#000" text-anchor="end" >2</text>
<text x="776" y="689" font-family="Liberation Sans, sans-serif" font-size="12px" fill="#000" text-anchor="end" >1</text>
<text x="776" y="731" font-family="Liberation Sans, sans-serif" font-size="12px" fill="#000" text-anchor="end" >0</text>
<rect x="10" y="0" width="425" height="14" fill="#fff"/>
<rect x="10" y="14" width="383" height="14" fill="#fff"/>
<text x="10.24" y="11" font-family="Liberation Sans, sans-serif" font-size="12px" fill="#000" text-anchor="start" textLength="28.81" lengthAdjust="spacing">YAAS</text>
<text x="42.97" y="11" font-family="Liberation Sans, sans-serif" font-size="12px" fill="#000" text-anchor="start" >-</text>
<text x="48.52" y="11" font-family="Liberation Sans, sans-serif" font-size="12px" fill="#000" text-anchor="start" textLength="27.21" lengthAdjust="spacing">Daily</text>
<text x="78.60" y="11" font-family="Liberation Sans, sans-serif" font-size="12px" fill="#000" text-anchor="start" textLength="64.93" lengthAdjust="spacing">2025-10-03</text>
<text x="146.43" y="11" font-family="Liberation Sans, sans-serif" font-size="12px" fill="#000" text-anchor="start" textLength="28.95" lengthAdjust="spacing">Open</text>
<text x="178.60" y="11" font-family="Liberation Sans, sans-serif" font-size="12px" fill="#000" text-anchor="start" textLength="24.23" lengthAdjust="spacing">2.56</text>
<text x="209.02" y="11" font-family="Liberation Sans, sans-serif" font-size="12px" fill="#000" text-anchor="start" textLength="24.76" lengthAdjust="spacing">High</text>
<text x="238.04" y="11" font-family="Liberation Sans, sans-serif" font-size="12px" fill="#000" text-anchor="start" textLength="37.93" lengthAdjust="spacing">3.3399</text>
<text x="282.02" y="11" font-family="Liberation Sans, sans-serif" font-size="12px" fill="#000" text-anchor="start" >Low</text>
<text x="307.40" y="11" font-family="Liberation Sans, sans-serif" font-size="12px" fill="#000" text-anchor="start" >2.5</text>
<text x="331.39" y="11" font-family="Liberation Sans, sans-serif" font-size="12px" fill="#000" text-anchor="start" textLength="32.14" lengthAdjust="spacing">Close</text>
<text x="367.10" y="11" font-family="Liberation Sans, sans-serif" font-size="12px" fill="#000" text-anchor="start" textLength="23.43" lengthAdjust="spacing">2.58</text>
<text x="394.26" y="11" font-family="Liberation Sans, sans-serif" font-size="12px" fill="#000" text-anchor="start" textLength="35.99" lengthAdjust="spacing">(0.8%)</text>
<text x="10.45" y="25" font-family="Liberation Sans, sans-serif" font-size="12px" fill="#000" text-anchor="start" >Vol</text>
<text x="30.59" y="25" font-family="Liberation Sans, sans-serif" font-size="12px" fill="#000" text-anchor="start" textLength="54.32" lengthAdjust="spacing">1,558,217</text>
<text x="87.02" y="25" font-family="Liberation Sans, sans-serif" font-size="12px" fill="#ff00ff" text-anchor="start" textLength="34.37" lengthAdjust="spacing">Res-1</text>
<text x="124.81" y="25" font-family="Liberation Sans, sans-serif" font-size="12px" fill="#000" text-anchor="start" >=</text>
<text x="134.80" y="25" font-family="Liberation Sans, sans-serif" font-size="12px" fill="#000" text-anchor="start" textLength="27.08" lengthAdjust="spacing">2.22,</text>
<text x="164.02" y="25" font-family="Liberation Sans, sans-serif" font-size="12px" fill="#ff0000" text-anchor="start" textLength="35.09" lengthAdjust="spacing">Res-2</text>
<text x="201.71" y="25" font-family="Liberation Sans, sans-serif" font-size="12px" fill="#000" text-anchor="start" >=</text>
<text x="212.20" y="25" font-family="Liberation Sans, sans-serif" font-size="12px" fill="#000" text-anchor="start" textLength="27.38" lengthAdjust="spacing">2.22,</text>
<text x="242.26" y="25" font-family="Liberation Sans, sans-serif" font-size="12px" fill="#0000ff" text-anchor="start" textLength="32.13" lengthAdjust="spacing">Sup-1</text>
<text x="277.41" y="25" font-family="Liberation Sans, sans-serif" font-size="12px" fill="#000" text-anchor="start" >=</text>
<text x="288.03" y="25" font-family="Liberation Sans, sans-serif" font-size="12px" fill="#000" text-anchor="start" textLength="26.85" lengthAdjust="spacing">0.07,</text>
<text x="317.96" y="25" font-family="Liberation Sans, sans-serif" font-size="12px" fill="#008000" text-anchor="start" textLength="33.45" lengthAdjust="spacing">Sup-2</text>
<text x="354.01" y="25" font-family="Liberation Sans, sans-serif" font-size="12px" fill="#000" text-anchor="start" >=</text>
<text x="364.53" y="25" font-family="Liberation Sans, sans-serif" font-size="12px" fill="#000" text-anchor="start" textLength="23.07" lengthAdjust="spacing">0.07</text>
<rect x="10" y="313" width="346" height="14" fill="#fff"/>
<text x="10.24" y="325" font-family="Liberation Sans, sans-serif" font-size="12px" fill="#000" text-anchor="start" textLength="28.81" lengthAdjust="spacing">YAAS</text>
<text x="42.47" y="325" font-family="Liberation Sans, sans-serif" font-size="12px" fill="#000" text-anchor="start" >-</text>
<text x="48.52" y="325" font-family="Liberation Sans, sans-serif" font-size="12px" fill="#ff0000" text-anchor="start" textLength="23.52" lengthAdjust="spacing">Line</text>
<text x="75.61" y="325" font-family="Liberation Sans, sans-serif" font-size="12px" fill="#000" text-anchor="start" >=</text>
<text x="85.98" y="325" font-family="Liberation Sans, sans-serif" font-size="12px" fill="#000" text-anchor="start" textLength="33.60" lengthAdjust="spacing">83.18,</text>
<text x="124.33" y="325" font-family="Liberation Sans, sans-serif" font-size="12px" fill="#000" text-anchor="start" >Top</text>
<text x="147.11" y="325" font-family="Liberation Sans, sans-serif" font-size="12px" fill="#000" text-anchor="start" >=</text>
<text x="157.18" y="325" font-family="Liberation Sans, sans-serif" font-size="12px" fill="#000" text-anchor="start" textLength="33.90" lengthAdjust="spacing">80.58,</text>
<text x="193.62" y="325" font-family="Liberation Sans, sans-serif" font-size="12px" fill="#000" text-anchor="start" textLength="38.88" lengthAdjust="spacing">Bottom</text>
<text x="236.41" y="325" font-family="Liberation Sans, sans-serif" font-size="12px" fill="#000" text-anchor="start" >=</text>
<text x="246.38" y="325" font-family="Liberation Sans, sans-serif" font-size="12px" fill="#000" text-anchor="start" textLength="26.69" lengthAdjust="spacing">7.68,</text>
<text x="275.96" y="325" font-family="Liberation Sans, sans-serif" font-size="12px" fill="#0000ff" text-anchor="start" textLength="34.65" lengthAdjust="spacing">Signal</text>
<text x="313.61" y="325" font-family="Liberation Sans, sans-serif" font-size="12px" fill="#000" text-anchor="start" >=</text>
<text x="323.38" y="325" font-family="Liberation Sans, sans-serif" font-size="12px" fill="#000" text-anchor="start" textLength="30.84" lengthAdjust="spacing">71.43</text>
<rect x="10" y="410" width="396" height="15" fill="#fff"/>
<rect x="10" y="425" width="311" height="14" fill="#fff"/>
<text x="10.24" y="422" font-family="Liberation Sans, sans-serif" font-size="12px" fill="#000" text-anchor="start" textLength="28.81" lengthAdjust="spacing">YAAS</text>
<text x="42.97" y="422" font-family="Liberation Sans, sans-serif" font-size="12px" fill="#000" text-anchor="start" >-</text>
<text x="48.52" y="422" font-family="Liberation Sans, sans-serif" font-size="12px" fill="#000" text-anchor="start" textLength="27.21" lengthAdjust="spacing">Daily</text>
<text x="78.60" y="422" font-family="Liberation Sans, sans-serif" font-size="12px" fill="#000" text-anchor="start" textLength="64.93" lengthAdjust="spacing">2025-10-03</text>
<text x="146.43" y="422" font-family="Liberation Sans, sans-serif" font-size="12px" fill="#000" text-anchor="start" textLength="29.35" lengthAdjust="spacing">Open</text>
<text x="178.60" y="422" font-family="Liberation Sans, sans-serif" font-size="12px" fill="#000" text-anchor="start" textLength="39.91" lengthAdjust="spacing">2.56,Hi</text>
<text x="221.04" y="422" font-family="Liberation Sans, sans-serif" font-size="12px" fill="#000" text-anchor="start" textLength="54.86" lengthAdjust="spacing">3.3399,Lo</text>
<text x="278.60" y="422" font-family="Liberation Sans, sans-serif" font-size="12px" fill="#000" text-anchor="start" textLength="20.18" lengthAdjust="spacing">2.5,</text>
<text x="302.09" y="422" font-family="Liberation Sans, sans-serif" font-size="12px" fill="#000" text-anchor="start" textLength="32.64" lengthAdjust="spacing">Close</text>
<text x="337.90" y="422" font-family="Liberation Sans, sans-serif" font-size="12px" fill="#000" text-anchor="start" textLength="23.62" lengthAdjust="spacing">2.58</text>
<text x="365.06" y="422" font-family="Liberation Sans, sans-serif" font-size="12px" fill="#000" text-anchor="start" textLength="36.49" lengthAdjust="spacing">(0.8%)</text>
<text x="10.45" y="436" font-family="Liberation Sans, sans-serif" font-size="12px" fill="#000" text-anchor="start" >Vol</text>
<text x="30.59" y="436" font-family="Liberation Sans, sans-serif" font-size="12px" fill="#000" text-anchor="start" textLength="68.44" lengthAdjust="spacing">155,821,696</text>
<text x="102.53" y="436" font-family="Liberation Sans, sans-serif" font-size="12px" fill="#ff0000" text-anchor="start" >Top</text>
<text x="125.41" y="436" font-family="Liberation Sans, sans-serif" font-size="12px" fill="#000" text-anchor="start" >=</text>
<text x="135.54" y="436" font-family="Liberation Sans, sans-serif" font-size="12px" fill="#000" text-anchor="start" textLength="27.84" lengthAdjust="spacing">3.23,</text>
<text x="165.52" y="436" font-family="Liberation Sans, sans-serif" font-size="12px" fill="#008000" text-anchor="start" textLength="39.08" lengthAdjust="spacing">Bottom</text>
<text x="208.11" y="436" font-family="Liberation Sans, sans-serif" font-size="12px" fill="#000" text-anchor="start" >=</text>
<text x="218.20" y="436" font-family="Liberation Sans, sans-serif" font-size="12px" fill="#000" text-anchor="start" textLength="27.48" lengthAdjust="spacing">2.82,</text>
<text x="248.23" y="436" font-family="Liberation Sans, sans-serif" font-size="12px" fill="#0000ff" text-anchor="start" textLength="32.54" lengthAdjust="spacing">Trend</text>
<text x="283.71" y="436" font-family="Liberation Sans, sans-serif" font-size="12px" fill="#000" text-anchor="start" >=</text>
<text x="294.09" y="436" font-family="Liberation Sans, sans-serif" font-size="12px" fill="#000" text-anchor="start" textLength="21.67" lengthAdjust="spacing">1.34</text>
</svg>
</body></html>
